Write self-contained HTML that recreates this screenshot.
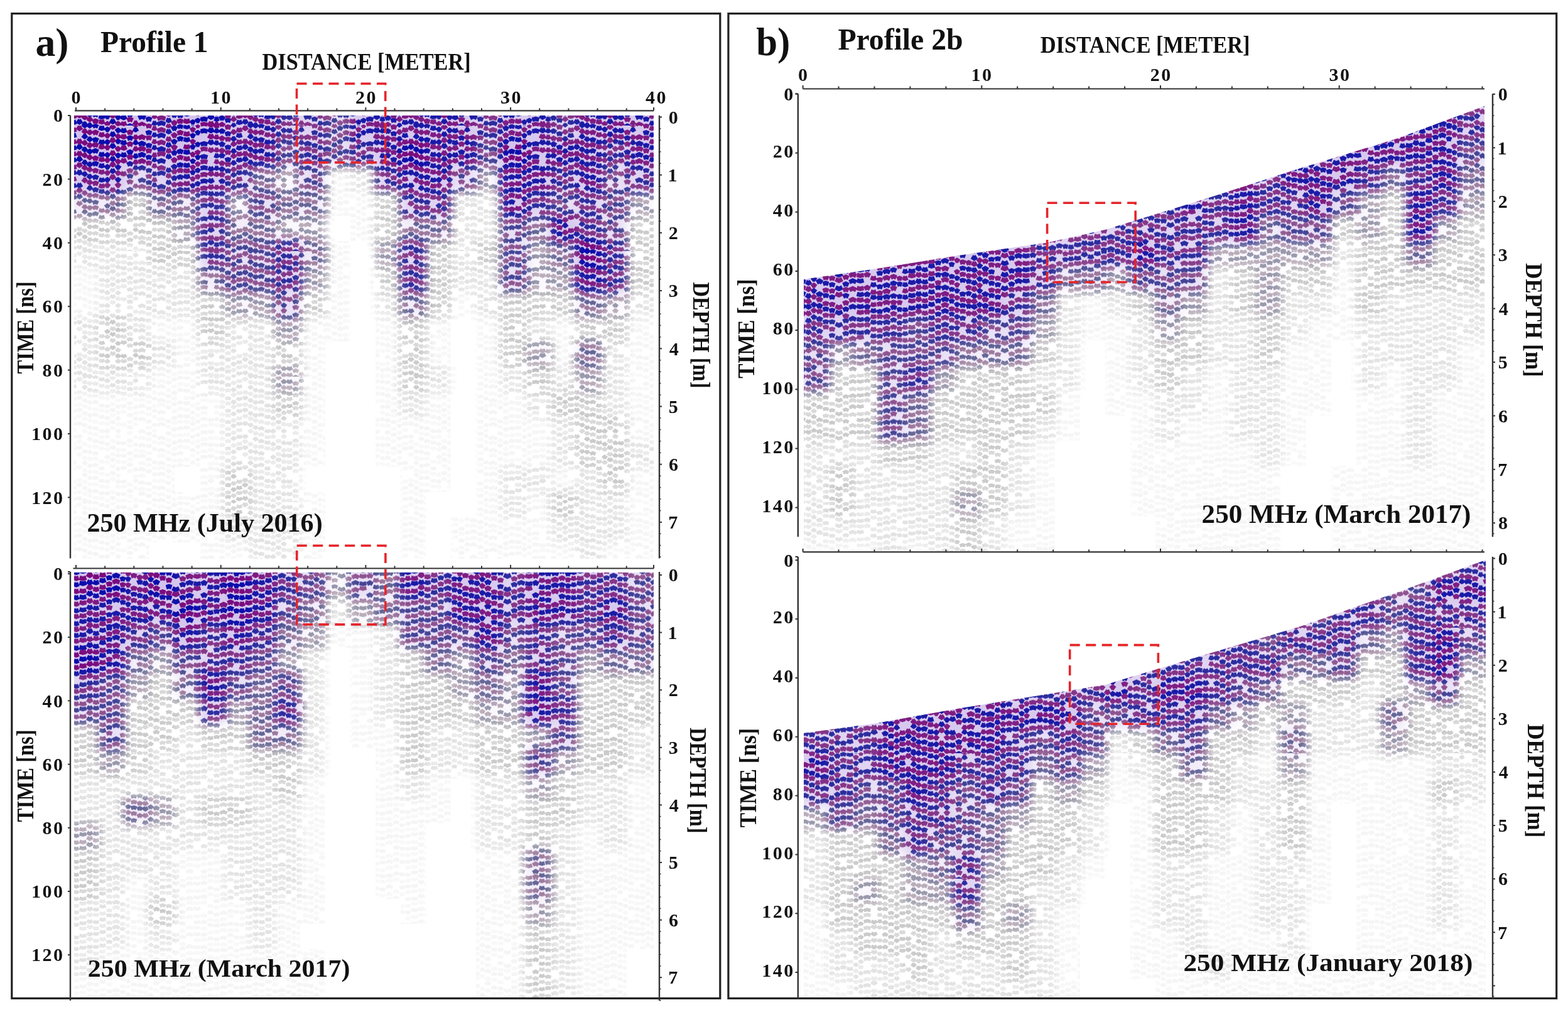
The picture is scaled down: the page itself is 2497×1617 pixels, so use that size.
<!DOCTYPE html>
<html><head><meta charset="utf-8"><style>
html,body{margin:0;padding:0;background:#fff;}
svg{display:block;}
text{font-family:"Liberation Serif","Times New Roman",serif;font-weight:bold;fill:#111;}
</style></head><body>
<svg xmlns="http://www.w3.org/2000/svg" width="2497" height="1617" viewBox="0 0 2497 1617">
<rect width="2497" height="1617" fill="#fff"/>
<defs><filter id="mblur" x="-5%" y="-5%" width="110%" height="110%"><feGaussianBlur stdDeviation="7"/></filter><path id="waA" d="M0.6 8.2L4.5 10.2L8.4 8.2M0.6 29.5L4.5 31.5L8.4 29.5M0.6 48.0L4.5 50.0L8.4 48.0M0.6 69.8L4.5 71.8L8.4 69.8M0.6 89.2L4.5 91.2L8.4 89.2M0.6 108.5L4.5 110.5L8.4 108.5M0.6 130.0L4.5 132.0L8.4 130.0M0.6 149.1L4.5 151.1L8.4 149.1M0.6 167.9L4.5 169.9L8.4 167.9M0.6 190.4L4.5 192.4L8.4 190.4M9.6 6.1L13.5 3.6L17.4 6.1M9.6 27.5L13.5 25.0L17.4 27.5M9.6 45.4L13.5 42.9L17.4 45.4M9.6 67.5L13.5 65.0L17.4 67.5M9.6 85.6L13.5 83.1L17.4 85.6M9.6 106.8L13.5 104.3L17.4 106.8M9.6 125.4L13.5 122.9L17.4 125.4M9.6 144.8L13.5 142.3L17.4 144.8M9.6 165.2L13.5 162.7L17.4 165.2M9.6 185.1L13.5 182.6L17.4 185.1M18.6 2.5L23.0 0.5L27.4 2.5M18.6 22.4L23.0 20.4L27.4 22.4M18.6 42.6L23.0 40.6L27.4 42.6M18.6 64.1L23.0 62.1L27.4 64.1M18.6 83.4L23.0 81.4L27.4 83.4M18.6 103.7L23.0 101.7L27.4 103.7M18.6 123.3L23.0 121.3L27.4 123.3M18.6 142.3L23.0 140.3L27.4 142.3M18.6 163.9L23.0 161.9L27.4 163.9M18.6 185.2L23.0 183.2L27.4 185.2M18.6 203.4L23.0 201.4L27.4 203.4M28.6 0.8L33.5 2.3L38.4 0.8M28.6 21.6L33.5 23.1L38.4 21.6M28.6 41.5L33.5 43.0L38.4 41.5M28.6 62.5L33.5 64.0L38.4 62.5M28.6 80.3L33.5 81.8L38.4 80.3M28.6 101.6L33.5 103.1L38.4 101.6M28.6 142.6L33.5 144.1L38.4 142.6M28.6 160.7L33.5 162.2L38.4 160.7M28.6 180.4L33.5 181.9L38.4 180.4M28.6 202.3L33.5 203.8L38.4 202.3M39.6 -1.9L43.0 -3.9L46.4 -1.9M39.6 17.7L43.0 15.7L46.4 17.7M39.6 35.7L43.0 33.7L46.4 35.7M39.6 58.5L43.0 56.5L46.4 58.5M39.6 76.3L43.0 74.3L46.4 76.3M39.6 97.4L43.0 95.4L46.4 97.4M39.6 118.4L43.0 116.4L46.4 118.4M39.6 138.4L43.0 136.4L46.4 138.4M39.6 157.3L43.0 155.3L46.4 157.3M39.6 176.2L43.0 174.2L46.4 176.2M39.6 196.2L43.0 194.2L46.4 196.2M47.6 12.9L51.0 10.9L54.4 12.9M47.6 31.7L51.0 29.7L54.4 31.7M47.6 52.1L51.0 50.1L54.4 52.1M47.6 73.0L51.0 71.0L54.4 73.0M47.6 94.3L51.0 92.3L54.4 94.3M47.6 112.8L51.0 110.8L54.4 112.8M47.6 133.5L51.0 131.5L54.4 133.5M47.6 151.9L51.0 149.9L54.4 151.9M47.6 172.6L51.0 170.6L54.4 172.6M47.6 193.7L51.0 191.7L54.4 193.7M55.6 9.5L61.0 8.0L66.4 9.5M55.6 30.1L61.0 28.6L66.4 30.1M55.6 50.6L61.0 49.1L66.4 50.6M55.6 68.3L61.0 66.8L66.4 68.3M55.6 89.5L61.0 88.0L66.4 89.5M55.6 108.7L61.0 107.2L66.4 108.7M55.6 128.5L61.0 127.0L66.4 128.5M55.6 149.5L61.0 148.0L66.4 149.5M55.6 170.6L61.0 169.1L66.4 170.6M55.6 190.8L61.0 189.3L66.4 190.8M67.6 6.0L72.0 8.5L76.4 6.0M67.6 25.2L72.0 27.7L76.4 25.2M67.6 67.4L72.0 69.9L76.4 67.4M67.6 86.4L72.0 88.9L76.4 86.4M67.6 107.1L72.0 109.6L76.4 107.1M67.6 125.1L72.0 127.6L76.4 125.1M67.6 144.9L72.0 147.4L76.4 144.9M67.6 164.5L72.0 167.0L76.4 164.5M67.6 184.6L72.0 187.1L76.4 184.6M77.6 7.2L81.0 8.7L84.4 7.2M77.6 26.5L81.0 28.0L84.4 26.5M77.6 47.1L81.0 48.6L84.4 47.1M77.6 66.8L81.0 68.3L84.4 66.8M77.6 108.1L81.0 109.6L84.4 108.1M77.6 129.1L81.0 130.6L84.4 129.1M77.6 146.9L81.0 148.4L84.4 146.9M77.6 188.7L81.0 190.2L84.4 188.7M85.6 10.8L89.5 8.3L93.4 10.8M85.6 31.6L89.5 29.1L93.4 31.6M85.6 49.7L89.5 47.2L93.4 49.7M85.6 71.3L89.5 68.8L93.4 71.3M85.6 90.5L89.5 88.0L93.4 90.5M85.6 110.4L89.5 107.9L93.4 110.4M85.6 130.9L89.5 128.4L93.4 130.9M85.6 151.6L89.5 149.1L93.4 151.6M85.6 170.5L89.5 168.0L93.4 170.5M85.6 189.8L89.5 187.3L93.4 189.8M94.6 -4.4L99.0 -5.9L103.4 -4.4M94.6 14.1L99.0 12.6L103.4 14.1M94.6 35.6L99.0 34.1L103.4 35.6M94.6 55.4L99.0 53.9L103.4 55.4M94.6 73.4L99.0 71.9L103.4 73.4M94.6 93.5L99.0 92.0L103.4 93.5M94.6 115.3L99.0 113.8L103.4 115.3M94.6 134.7L99.0 133.2L103.4 134.7M94.6 153.8L99.0 152.3L103.4 153.8M94.6 173.6L99.0 172.1L103.4 173.6M94.6 192.7L99.0 191.2L103.4 192.7M104.6 -3.4L108.0 -0.9L111.4 -3.4M104.6 19.3L108.0 21.8L111.4 19.3M104.6 38.8L108.0 41.3L111.4 38.8M104.6 57.6L108.0 60.1L111.4 57.6M104.6 76.6L108.0 79.1L111.4 76.6M104.6 96.8L108.0 99.3L111.4 96.8M104.6 118.1L108.0 120.6L111.4 118.1M104.6 137.2L108.0 139.7L111.4 137.2M104.6 157.1L108.0 159.6L111.4 157.1M104.6 178.3L108.0 180.8L111.4 178.3M104.6 198.1L108.0 200.6L111.4 198.1M112.6 -5.7L117.0 -4.2L121.4 -5.7M112.6 14.8L117.0 16.3L121.4 14.8M112.6 34.6L117.0 36.1L121.4 34.6M112.6 53.9L117.0 55.4L121.4 53.9M112.6 74.2L117.0 75.7L121.4 74.2M112.6 94.9L117.0 96.4L121.4 94.9M112.6 113.6L117.0 115.1L121.4 113.6M112.6 136.3L117.0 137.8L121.4 136.3M112.6 176.1L117.0 177.6L121.4 176.1M112.6 194.0L117.0 195.5L121.4 194.0M122.6 32.3L126.5 34.8L130.4 32.3M122.6 51.6L126.5 54.1L130.4 51.6M122.6 73.1L126.5 75.6L130.4 73.1M122.6 93.7L126.5 96.2L130.4 93.7M122.6 111.4L126.5 113.9L130.4 111.4M122.6 171.0L126.5 173.5L130.4 171.0M122.6 192.2L126.5 194.7L130.4 192.2M131.6 -2.3L135.0 0.2L138.4 -2.3M131.6 15.4L135.0 17.9L138.4 15.4M131.6 36.2L135.0 38.7L138.4 36.2M131.6 56.8L135.0 59.3L138.4 56.8M131.6 75.4L135.0 77.9L138.4 75.4M131.6 117.4L135.0 119.9L138.4 117.4M131.6 135.7L135.0 138.2L138.4 135.7M131.6 154.9L135.0 157.4L138.4 154.9M131.6 175.8L135.0 178.3L138.4 175.8M131.6 195.8L135.0 198.3L138.4 195.8M139.6 -1.9L143.0 0.6L146.4 -1.9M139.6 19.8L143.0 22.3L146.4 19.8M139.6 39.4L143.0 41.9L146.4 39.4M139.6 60.0L143.0 62.5L146.4 60.0M139.6 79.4L143.0 81.9L146.4 79.4M139.6 97.7L143.0 100.2L146.4 97.7M139.6 118.4L143.0 120.9L146.4 118.4M139.6 140.4L143.0 142.9L146.4 140.4M139.6 159.7L143.0 162.2L146.4 159.7M139.6 180.3L143.0 182.8L146.4 180.3M139.6 197.6L143.0 200.1L146.4 197.6M147.6 1.5L152.0 -0.5L156.4 1.5M147.6 24.1L152.0 22.1L156.4 24.1M147.6 41.7L152.0 39.7L156.4 41.7M147.6 62.1L152.0 60.1L156.4 62.1M147.6 83.7L152.0 81.7L156.4 83.7M147.6 103.9L152.0 101.9L156.4 103.9M147.6 123.6L152.0 121.6L156.4 123.6M147.6 141.9L152.0 139.9L156.4 141.9M147.6 162.6L152.0 160.6L156.4 162.6M147.6 183.8L152.0 181.8L156.4 183.8M147.6 202.8L152.0 200.8L156.4 202.8M157.6 3.3L162.0 4.8L166.4 3.3M157.6 25.4L162.0 26.9L166.4 25.4M157.6 45.2L162.0 46.7L166.4 45.2M157.6 63.2L162.0 64.7L166.4 63.2M157.6 85.8L162.0 87.3L166.4 85.8M157.6 104.1L162.0 105.6L166.4 104.1M157.6 145.4L162.0 146.9L166.4 145.4M157.6 165.0L162.0 166.5L166.4 165.0M157.6 185.0L162.0 186.5L166.4 185.0M157.6 205.7L162.0 207.2L166.4 205.7M167.6 8.2L171.0 5.7L174.4 8.2M167.6 28.3L171.0 25.8L174.4 28.3M167.6 48.9L171.0 46.4L174.4 48.9M167.6 68.0L171.0 65.5L174.4 68.0M167.6 88.5L171.0 86.0L174.4 88.5M167.6 109.3L171.0 106.8L174.4 109.3M167.6 129.8L171.0 127.3L174.4 129.8M167.6 168.8L171.0 166.3L174.4 168.8M167.6 187.6L171.0 185.1L174.4 187.6M175.6 12.1L179.5 14.6L183.4 12.1M175.6 30.8L179.5 33.3L183.4 30.8M175.6 51.5L179.5 54.0L183.4 51.5M175.6 70.7L179.5 73.2L183.4 70.7M175.6 111.4L179.5 113.9L183.4 111.4M175.6 130.8L179.5 133.3L183.4 130.8M175.6 152.0L179.5 154.5L183.4 152.0M175.6 191.7L179.5 194.2L183.4 191.7M184.6 9.7L188.0 7.2L191.4 9.7M184.6 27.1L188.0 24.6L191.4 27.1M184.6 49.6L188.0 47.1L191.4 49.6M184.6 68.4L188.0 65.9L191.4 68.4M184.6 88.4L188.0 85.9L191.4 88.4M184.6 107.4L188.0 104.9L191.4 107.4M184.6 127.4L188.0 124.9L191.4 127.4M184.6 148.8L188.0 146.3L191.4 148.8M184.6 168.7L188.0 166.2L191.4 168.7M184.6 188.8L188.0 186.3L191.4 188.8M192.6 6.7L197.0 8.7L201.4 6.7M192.6 26.0L197.0 28.0L201.4 26.0M192.6 45.6L197.0 47.6L201.4 45.6M192.6 104.7L197.0 106.7L201.4 104.7M192.6 124.7L197.0 126.7L201.4 124.7M192.6 144.2L197.0 146.2L201.4 144.2M192.6 165.9L197.0 167.9L201.4 165.9M192.6 185.8L197.0 187.8L201.4 185.8M192.6 203.9L197.0 205.9L201.4 203.9M202.6 21.2L207.0 19.2L211.4 21.2M202.6 43.8L207.0 41.8L211.4 43.8M202.6 62.5L207.0 60.5L211.4 62.5M202.6 81.9L207.0 79.9L211.4 81.9M202.6 103.3L207.0 101.3L211.4 103.3M202.6 123.2L207.0 121.2L211.4 123.2M202.6 141.7L207.0 139.7L211.4 141.7M202.6 183.5L207.0 181.5L211.4 183.5M202.6 202.3L207.0 200.3L211.4 202.3M212.6 5.0L216.0 7.0L219.4 5.0M212.6 25.6L216.0 27.6L219.4 25.6M212.6 47.2L216.0 49.2L219.4 47.2M212.6 65.8L216.0 67.8L219.4 65.8M212.6 106.8L216.0 108.8L219.4 106.8M212.6 124.9L216.0 126.9L219.4 124.9M212.6 146.3L216.0 148.3L219.4 146.3M212.6 164.5L216.0 166.5L219.4 164.5M220.6 30.4L226.0 27.9L231.4 30.4M220.6 48.2L226.0 45.7L231.4 48.2M220.6 69.2L226.0 66.7L231.4 69.2M220.6 88.8L226.0 86.3L231.4 88.8M220.6 110.8L226.0 108.3L231.4 110.8M220.6 128.0L226.0 125.5L231.4 128.0M220.6 148.9L226.0 146.4L231.4 148.9M220.6 170.5L226.0 168.0L231.4 170.5M220.6 187.9L226.0 185.4L231.4 187.9M232.6 12.4L237.0 10.9L241.4 12.4M232.6 32.8L237.0 31.3L241.4 32.8M232.6 51.6L237.0 50.1L241.4 51.6M232.6 72.7L237.0 71.2L241.4 72.7M232.6 91.9L237.0 90.4L241.4 91.9M232.6 111.6L237.0 110.1L241.4 111.6M232.6 132.8L237.0 131.3L241.4 132.8M232.6 151.8L237.0 150.3L241.4 151.8M232.6 171.5L237.0 170.0L241.4 171.5M232.6 190.9L237.0 189.4L241.4 190.9M242.6 -4.9L246.0 -3.4L249.4 -4.9M242.6 13.7L246.0 15.2L249.4 13.7M242.6 34.0L246.0 35.5L249.4 34.0M242.6 53.3L246.0 54.8L249.4 53.3M242.6 75.9L246.0 77.4L249.4 75.9M242.6 93.6L246.0 95.1L249.4 93.6M242.6 114.2L246.0 115.7L249.4 114.2M242.6 135.4L246.0 136.9L249.4 135.4M242.6 154.4L246.0 155.9L249.4 154.4M242.6 175.2L246.0 176.7L249.4 175.2M242.6 195.2L246.0 196.7L249.4 195.2M250.6 -2.2L257.0 -4.7L263.4 -2.2M250.6 17.3L257.0 14.8L263.4 17.3M250.6 39.1L257.0 36.6L263.4 39.1M250.6 58.1L257.0 55.6L263.4 58.1M250.6 77.5L257.0 75.0L263.4 77.5M250.6 99.2L257.0 96.7L263.4 99.2M250.6 118.7L257.0 116.2L263.4 118.7M250.6 139.1L257.0 136.6L263.4 139.1M250.6 156.6L257.0 154.1L263.4 156.6M250.6 178.8L257.0 176.3L263.4 178.8M250.6 198.1L257.0 195.6L263.4 198.1"/><path id="wbA" d="M0.6 -1.3L4.5 0.7L8.4 -1.3M0.6 20.3L4.5 22.3L8.4 20.3M0.6 38.9L4.5 40.9L8.4 38.9M0.6 78.7L4.5 80.7L8.4 78.7M0.6 100.2L4.5 102.2L8.4 100.2M0.6 119.4L4.5 121.4L8.4 119.4M0.6 140.7L4.5 142.7L8.4 140.7M0.6 158.3L4.5 160.3L8.4 158.3M0.6 180.1L4.5 182.1L8.4 180.1M0.6 199.9L4.5 201.9L8.4 199.9M9.6 -3.5L13.5 -6.0L17.4 -3.5M9.6 17.4L13.5 14.9L17.4 17.4M9.6 36.6L13.5 34.1L17.4 36.6M9.6 56.9L13.5 54.4L17.4 56.9M9.6 75.2L13.5 72.7L17.4 75.2M9.6 96.0L13.5 93.5L17.4 96.0M9.6 116.8L13.5 114.3L17.4 116.8M9.6 135.2L13.5 132.7L17.4 135.2M9.6 155.3L13.5 152.8L17.4 155.3M9.6 176.6L13.5 174.1L17.4 176.6M9.6 197.6L13.5 195.1L17.4 197.6M18.6 -5.8L23.0 -7.8L27.4 -5.8M18.6 12.8L23.0 10.8L27.4 12.8M18.6 52.3L23.0 50.3L27.4 52.3M18.6 73.0L23.0 71.0L27.4 73.0M18.6 94.8L23.0 92.8L27.4 94.8M18.6 112.5L23.0 110.5L27.4 112.5M18.6 134.8L23.0 132.8L27.4 134.8M18.6 153.9L23.0 151.9L27.4 153.9M18.6 194.4L23.0 192.4L27.4 194.4M28.6 12.5L33.5 14.0L38.4 12.5M28.6 33.1L33.5 34.6L38.4 33.1M28.6 51.9L33.5 53.4L38.4 51.9M28.6 71.2L33.5 72.7L38.4 71.2M28.6 91.5L33.5 93.0L38.4 91.5M28.6 111.9L33.5 113.4L38.4 111.9M28.6 131.1L33.5 132.6L38.4 131.1M28.6 151.3L33.5 152.8L38.4 151.3M28.6 171.4L33.5 172.9L38.4 171.4M28.6 192.3L33.5 193.8L38.4 192.3M39.6 8.2L43.0 6.2L46.4 8.2M39.6 27.3L43.0 25.3L46.4 27.3M39.6 47.6L43.0 45.6L46.4 47.6M39.6 68.3L43.0 66.3L46.4 68.3M39.6 86.6L43.0 84.6L46.4 86.6M39.6 106.9L43.0 104.9L46.4 106.9M39.6 127.1L43.0 125.1L46.4 127.1M39.6 148.4L43.0 146.4L46.4 148.4M39.6 165.7L43.0 163.7L46.4 165.7M47.6 1.6L51.0 -0.4L54.4 1.6M47.6 44.4L51.0 42.4L54.4 44.4M47.6 63.0L51.0 61.0L54.4 63.0M47.6 83.1L51.0 81.1L54.4 83.1M47.6 104.2L51.0 102.2L54.4 104.2M47.6 122.7L51.0 120.7L54.4 122.7M47.6 142.1L51.0 140.1L54.4 142.1M47.6 164.3L51.0 162.3L54.4 164.3M47.6 181.9L51.0 179.9L54.4 181.9M47.6 204.2L51.0 202.2L54.4 204.2M55.6 -1.7L61.0 -3.2L66.4 -1.7M55.6 38.4L61.0 36.9L66.4 38.4M55.6 58.5L61.0 57.0L66.4 58.5M55.6 79.0L61.0 77.5L66.4 79.0M55.6 100.7L61.0 99.2L66.4 100.7M55.6 119.9L61.0 118.4L66.4 119.9M55.6 161.0L61.0 159.5L66.4 161.0M55.6 180.8L61.0 179.3L66.4 180.8M55.6 199.2L61.0 197.7L66.4 199.2M67.6 -2.8L72.0 -0.3L76.4 -2.8M67.6 15.8L72.0 18.3L76.4 15.8M67.6 37.4L72.0 39.9L76.4 37.4M67.6 75.2L72.0 77.7L76.4 75.2M67.6 96.4L72.0 98.9L76.4 96.4M67.6 115.4L72.0 117.9L76.4 115.4M67.6 137.1L72.0 139.6L76.4 137.1M67.6 157.4L72.0 159.9L76.4 157.4M67.6 177.1L72.0 179.6L76.4 177.1M67.6 195.6L72.0 198.1L76.4 195.6M77.6 -0.6L81.0 0.9L84.4 -0.6M77.6 17.4L81.0 18.9L84.4 17.4M77.6 37.9L81.0 39.4L84.4 37.9M77.6 56.5L81.0 58.0L84.4 56.5M77.6 76.6L81.0 78.1L84.4 76.6M77.6 97.2L81.0 98.7L84.4 97.2M77.6 118.5L81.0 120.0L84.4 118.5M77.6 137.5L81.0 139.0L84.4 137.5M77.6 158.4L81.0 159.9L84.4 158.4M77.6 179.2L81.0 180.7L84.4 179.2M77.6 196.9L81.0 198.4L84.4 196.9M85.6 -0.2L89.5 -2.7L93.4 -0.2M85.6 22.2L89.5 19.7L93.4 22.2M85.6 41.8L89.5 39.3L93.4 41.8M85.6 62.0L89.5 59.5L93.4 62.0M85.6 79.9L89.5 77.4L93.4 79.9M85.6 100.5L89.5 98.0L93.4 100.5M85.6 122.7L89.5 120.2L93.4 122.7M85.6 141.8L89.5 139.3L93.4 141.8M85.6 160.0L89.5 157.5L93.4 160.0M85.6 180.7L89.5 178.2L93.4 180.7M85.6 200.5L89.5 198.0L93.4 200.5M94.6 3.6L99.0 2.1L103.4 3.6M94.6 22.9L99.0 21.4L103.4 22.9M94.6 43.8L99.0 42.3L103.4 43.8M94.6 62.9L99.0 61.4L103.4 62.9M94.6 84.4L99.0 82.9L103.4 84.4M94.6 103.7L99.0 102.2L103.4 103.7M94.6 123.1L99.0 121.6L103.4 123.1M94.6 144.8L99.0 143.3L103.4 144.8M94.6 163.6L99.0 162.1L103.4 163.6M94.6 185.5L99.0 184.0L103.4 185.5M94.6 203.4L99.0 201.9L103.4 203.4M104.6 8.3L108.0 10.8L111.4 8.3M104.6 27.3L108.0 29.8L111.4 27.3M104.6 46.5L108.0 49.0L111.4 46.5M104.6 68.1L108.0 70.6L111.4 68.1M104.6 87.6L108.0 90.1L111.4 87.6M104.6 107.9L108.0 110.4L111.4 107.9M104.6 127.6L108.0 130.1L111.4 127.6M104.6 148.4L108.0 150.9L111.4 148.4M104.6 168.4L108.0 170.9L111.4 168.4M104.6 187.9L108.0 190.4L111.4 187.9M112.6 6.2L117.0 7.7L121.4 6.2M112.6 25.1L117.0 26.6L121.4 25.1M112.6 44.4L117.0 45.9L121.4 44.4M112.6 65.5L117.0 67.0L121.4 65.5M112.6 84.3L117.0 85.8L121.4 84.3M112.6 106.1L117.0 107.6L121.4 106.1M112.6 145.3L117.0 146.8L121.4 145.3M112.6 166.3L117.0 167.8L121.4 166.3M112.6 184.3L117.0 185.8L121.4 184.3M112.6 205.6L117.0 207.1L121.4 205.6M122.6 2.4L126.5 4.9L130.4 2.4M122.6 23.6L126.5 26.1L130.4 23.6M122.6 43.0L126.5 45.5L130.4 43.0M122.6 61.3L126.5 63.8L130.4 61.3M122.6 101.7L126.5 104.2L130.4 101.7M122.6 122.4L126.5 124.9L130.4 122.4M122.6 142.7L126.5 145.2L130.4 142.7M122.6 163.4L126.5 165.9L130.4 163.4M122.6 182.0L126.5 184.5L130.4 182.0M122.6 202.9L126.5 205.4L130.4 202.9M131.6 7.2L135.0 9.7L138.4 7.2M131.6 25.6L135.0 28.1L138.4 25.6M131.6 45.4L135.0 47.9L138.4 45.4M131.6 65.2L135.0 67.7L138.4 65.2M131.6 85.2L135.0 87.7L138.4 85.2M131.6 105.9L135.0 108.4L138.4 105.9M131.6 127.8L135.0 130.3L138.4 127.8M131.6 147.6L135.0 150.1L138.4 147.6M131.6 165.9L135.0 168.4L138.4 165.9M131.6 184.8L135.0 187.3L138.4 184.8M131.6 205.1L135.0 207.6L138.4 205.1M139.6 8.9L143.0 11.4L146.4 8.9M139.6 29.5L143.0 32.0L146.4 29.5M139.6 48.7L143.0 51.2L146.4 48.7M139.6 68.1L143.0 70.6L146.4 68.1M139.6 88.6L143.0 91.1L146.4 88.6M139.6 109.6L143.0 112.1L146.4 109.6M139.6 129.3L143.0 131.8L146.4 129.3M139.6 150.0L143.0 152.5L146.4 150.0M139.6 169.9L143.0 172.4L146.4 169.9M139.6 188.0L143.0 190.5L146.4 188.0M147.6 12.4L152.0 10.4L156.4 12.4M147.6 32.2L152.0 30.2L156.4 32.2M147.6 53.5L152.0 51.5L156.4 53.5M147.6 73.3L152.0 71.3L156.4 73.3M147.6 93.4L152.0 91.4L156.4 93.4M147.6 113.1L152.0 111.1L156.4 113.1M147.6 132.1L152.0 130.1L156.4 132.1M147.6 153.1L152.0 151.1L156.4 153.1M147.6 172.9L152.0 170.9L156.4 172.9M147.6 194.4L152.0 192.4L156.4 194.4M157.6 -4.5L162.0 -3.0L166.4 -4.5M157.6 13.6L162.0 15.1L166.4 13.6M157.6 33.0L162.0 34.5L166.4 33.0M157.6 53.1L162.0 54.6L166.4 53.1M157.6 73.1L162.0 74.6L166.4 73.1M157.6 95.5L162.0 97.0L166.4 95.5M157.6 113.3L162.0 114.8L166.4 113.3M157.6 134.5L162.0 136.0L166.4 134.5M157.6 153.5L162.0 155.0L166.4 153.5M157.6 173.8L162.0 175.3L166.4 173.8M157.6 193.2L162.0 194.7L166.4 193.2M167.6 -3.0L171.0 -5.5L174.4 -3.0M167.6 18.2L171.0 15.7L174.4 18.2M167.6 37.0L171.0 34.5L174.4 37.0M167.6 57.2L171.0 54.7L174.4 57.2M167.6 77.4L171.0 74.9L174.4 77.4M167.6 97.3L171.0 94.8L174.4 97.3M167.6 117.5L171.0 115.0L174.4 117.5M167.6 138.4L171.0 135.9L174.4 138.4M167.6 158.1L171.0 155.6L174.4 158.1M167.6 177.4L171.0 174.9L174.4 177.4M167.6 199.5L171.0 197.0L174.4 199.5M175.6 0.2L179.5 2.7L183.4 0.2M175.6 21.6L179.5 24.1L183.4 21.6M175.6 42.1L179.5 44.6L183.4 42.1M175.6 60.3L179.5 62.8L183.4 60.3M175.6 80.1L179.5 82.6L183.4 80.1M175.6 101.0L179.5 103.5L183.4 101.0M175.6 122.1L179.5 124.6L183.4 122.1M175.6 140.7L179.5 143.2L183.4 140.7M175.6 161.6L179.5 164.1L183.4 161.6M175.6 182.4L179.5 184.9L183.4 182.4M175.6 201.8L179.5 204.3L183.4 201.8M184.6 -1.6L188.0 -4.1L191.4 -1.6M184.6 19.3L188.0 16.8L191.4 19.3M184.6 39.2L188.0 36.7L191.4 39.2M184.6 59.4L188.0 56.9L191.4 59.4M184.6 77.6L188.0 75.1L191.4 77.6M184.6 97.0L188.0 94.5L191.4 97.0M184.6 119.0L188.0 116.5L191.4 119.0M184.6 137.3L188.0 134.8L191.4 137.3M184.6 159.5L188.0 157.0L191.4 159.5M184.6 177.2L188.0 174.7L191.4 177.2M184.6 199.3L188.0 196.8L191.4 199.3M192.6 -4.7L197.0 -2.7L201.4 -4.7M192.6 16.5L197.0 18.5L201.4 16.5M192.6 34.4L197.0 36.4L201.4 34.4M192.6 54.8L197.0 56.8L201.4 54.8M192.6 75.6L197.0 77.6L201.4 75.6M192.6 115.4L197.0 117.4L201.4 115.4M192.6 134.9L197.0 136.9L201.4 134.9M192.6 173.9L197.0 175.9L201.4 173.9M192.6 196.2L197.0 198.2L201.4 196.2M202.6 12.2L207.0 10.2L211.4 12.2M202.6 31.0L207.0 29.0L211.4 31.0M202.6 51.6L207.0 49.6L211.4 51.6M202.6 73.4L207.0 71.4L211.4 73.4M202.6 91.1L207.0 89.1L211.4 91.1M202.6 111.0L207.0 109.0L211.4 111.0M202.6 133.2L207.0 131.2L211.4 133.2M202.6 151.7L207.0 149.7L211.4 151.7M202.6 173.2L207.0 171.2L211.4 173.2M202.6 191.8L207.0 189.8L211.4 191.8M212.6 -2.9L216.0 -0.9L219.4 -2.9M212.6 17.2L216.0 19.2L219.4 17.2M212.6 35.6L216.0 37.6L219.4 35.6M212.6 56.9L216.0 58.9L219.4 56.9M212.6 74.4L216.0 76.4L219.4 74.4M212.6 95.1L216.0 97.1L219.4 95.1M212.6 116.2L216.0 118.2L219.4 116.2M212.6 157.3L216.0 159.3L219.4 157.3M212.6 176.3L216.0 178.3L219.4 176.3M212.6 194.6L216.0 196.6L219.4 194.6M220.6 -1.8L226.0 -4.3L231.4 -1.8M220.6 20.3L226.0 17.8L231.4 20.3M220.6 38.8L226.0 36.3L231.4 38.8M220.6 58.5L226.0 56.0L231.4 58.5M220.6 99.0L226.0 96.5L231.4 99.0M220.6 120.5L226.0 118.0L231.4 120.5M220.6 139.2L226.0 136.7L231.4 139.2M220.6 159.5L226.0 157.0L231.4 159.5M220.6 180.4L226.0 177.9L231.4 180.4M220.6 200.2L226.0 197.7L231.4 200.2M232.6 1.7L237.0 0.2L241.4 1.7M232.6 20.7L237.0 19.2L241.4 20.7M232.6 41.4L237.0 39.9L241.4 41.4M232.6 60.9L237.0 59.4L241.4 60.9M232.6 82.2L237.0 80.7L241.4 82.2M232.6 100.9L237.0 99.4L241.4 100.9M232.6 122.9L237.0 121.4L241.4 122.9M232.6 141.7L237.0 140.2L241.4 141.7M232.6 181.3L237.0 179.8L241.4 181.3M232.6 202.0L237.0 200.5L241.4 202.0M242.6 3.4L246.0 4.9L249.4 3.4M242.6 24.6L246.0 26.1L249.4 24.6M242.6 45.9L246.0 47.4L249.4 45.9M242.6 63.3L246.0 64.8L249.4 63.3M242.6 85.2L246.0 86.7L249.4 85.2M242.6 103.3L246.0 104.8L249.4 103.3M242.6 144.5L246.0 146.0L249.4 144.5M242.6 164.8L246.0 166.3L249.4 164.8M242.6 184.3L246.0 185.8L249.4 184.3M242.6 203.7L246.0 205.2L249.4 203.7M250.6 8.6L257.0 6.1L263.4 8.6M250.6 28.7L257.0 26.2L263.4 28.7M250.6 46.6L257.0 44.1L263.4 46.6M250.6 69.1L257.0 66.6L263.4 69.1M250.6 107.3L257.0 104.8L263.4 107.3M250.6 127.1L257.0 124.6L263.4 127.1M250.6 147.1L257.0 144.6L263.4 147.1M250.6 167.6L257.0 165.1L263.4 167.6M250.6 189.5L257.0 187.0L263.4 189.5"/><pattern id="pcA" patternUnits="userSpaceOnUse" width="264" height="200"><rect width="264" height="200" fill="#d2c2ec"/><use href="#waA" fill="none" stroke="#0c0cac" stroke-width="7.2"/><use href="#wbA" fill="none" stroke="#7a0a7e" stroke-width="7.2"/></pattern><pattern id="pgA" patternUnits="userSpaceOnUse" width="264" height="200"><use href="#waA" fill="none" stroke="#444" stroke-width="5.5"/><use href="#wbA" fill="none" stroke="#777" stroke-width="5.5"/></pattern><path id="waB" d="M0.6 -5.2L5.0 -6.7L9.4 -5.2M0.6 13.2L5.0 11.7L9.4 13.2M0.6 54.6L5.0 53.1L9.4 54.6M0.6 74.4L5.0 72.9L9.4 74.4M0.6 95.5L5.0 94.0L9.4 95.5M0.6 113.9L5.0 112.4L9.4 113.9M0.6 135.5L5.0 134.0L9.4 135.5M0.6 153.0L5.0 151.5L9.4 153.0M0.6 175.9L5.0 174.4L9.4 175.9M0.6 195.3L5.0 193.8L9.4 195.3M10.6 -3.7L16.0 -1.2L21.4 -3.7M10.6 17.8L16.0 20.3L21.4 17.8M10.6 36.0L16.0 38.5L21.4 36.0M10.6 57.7L16.0 60.2L21.4 57.7M10.6 96.5L16.0 99.0L21.4 96.5M10.6 116.1L16.0 118.6L21.4 116.1M10.6 137.3L16.0 139.8L21.4 137.3M10.6 156.7L16.0 159.2L21.4 156.7M10.6 176.7L16.0 179.2L21.4 176.7M10.6 195.2L16.0 197.7L21.4 195.2M22.6 -5.0L27.0 -7.0L31.4 -5.0M22.6 12.5L27.0 10.5L31.4 12.5M22.6 32.9L27.0 30.9L31.4 32.9M22.6 54.0L27.0 52.0L31.4 54.0M22.6 72.4L27.0 70.4L31.4 72.4M22.6 94.0L27.0 92.0L31.4 94.0M22.6 112.2L27.0 110.2L31.4 112.2M22.6 132.7L27.0 130.7L31.4 132.7M22.6 153.3L27.0 151.3L31.4 153.3M22.6 174.3L27.0 172.3L31.4 174.3M32.6 9.3L38.0 6.8L43.4 9.3M32.6 32.0L38.0 29.5L43.4 32.0M32.6 49.4L38.0 46.9L43.4 49.4M32.6 90.3L38.0 87.8L43.4 90.3M32.6 109.4L38.0 106.9L43.4 109.4M32.6 130.1L38.0 127.6L43.4 130.1M32.6 150.5L38.0 148.0L43.4 150.5M32.6 170.1L38.0 167.6L43.4 170.1M32.6 189.5L38.0 187.0L43.4 189.5M44.6 6.8L50.0 8.3L55.4 6.8M44.6 28.8L50.0 30.3L55.4 28.8M44.6 46.6L50.0 48.1L55.4 46.6M44.6 68.3L50.0 69.8L55.4 68.3M44.6 87.5L50.0 89.0L55.4 87.5M44.6 108.1L50.0 109.6L55.4 108.1M44.6 129.1L50.0 130.6L55.4 129.1M44.6 167.9L50.0 169.4L55.4 167.9M56.6 8.1L61.0 5.6L65.4 8.1M56.6 30.0L61.0 27.5L65.4 30.0M56.6 70.7L61.0 68.2L65.4 70.7M56.6 90.4L61.0 87.9L65.4 90.4M56.6 110.5L61.0 108.0L65.4 110.5M56.6 130.5L61.0 128.0L65.4 130.5M56.6 149.8L61.0 147.3L65.4 149.8M56.6 168.8L61.0 166.3L65.4 168.8M56.6 190.2L61.0 187.7L65.4 190.2M66.6 -5.3L71.0 -3.8L75.4 -5.3M66.6 13.8L71.0 15.3L75.4 13.8M66.6 52.6L71.0 54.1L75.4 52.6M66.6 72.6L71.0 74.1L75.4 72.6M66.6 94.2L71.0 95.7L75.4 94.2M66.6 112.4L71.0 113.9L75.4 112.4M66.6 134.3L71.0 135.8L75.4 134.3M66.6 153.8L71.0 155.3L75.4 153.8M66.6 174.8L71.0 176.3L75.4 174.8M66.6 193.7L71.0 195.2L75.4 193.7M76.6 -1.9L81.0 -3.4L85.4 -1.9M76.6 18.0L81.0 16.5L85.4 18.0M76.6 36.4L81.0 34.9L85.4 36.4M76.6 57.9L81.0 56.4L85.4 57.9M76.6 75.5L81.0 74.0L85.4 75.5M76.6 97.3L81.0 95.8L85.4 97.3M76.6 115.2L81.0 113.7L85.4 115.2M76.6 136.7L81.0 135.2L85.4 136.7M76.6 157.0L81.0 155.5L85.4 157.0M76.6 175.2L81.0 173.7L85.4 175.2M76.6 196.8L81.0 195.3L85.4 196.8M86.6 -3.9L92.0 -6.4L97.4 -3.9M86.6 14.1L92.0 11.6L97.4 14.1M86.6 34.1L92.0 31.6L97.4 34.1M86.6 55.9L92.0 53.4L97.4 55.9M86.6 74.6L92.0 72.1L97.4 74.6M86.6 95.5L92.0 93.0L97.4 95.5M86.6 114.9L92.0 112.4L97.4 114.9M86.6 134.0L92.0 131.5L97.4 134.0M86.6 173.9L92.0 171.4L97.4 173.9M86.6 196.4L92.0 193.9L97.4 196.4M98.6 31.4L103.0 29.4L107.4 31.4M98.6 52.7L103.0 50.7L107.4 52.7M98.6 72.9L103.0 70.9L107.4 72.9M98.6 90.9L103.0 88.9L107.4 90.9M98.6 111.2L103.0 109.2L107.4 111.2M98.6 133.1L103.0 131.1L107.4 133.1M98.6 151.4L103.0 149.4L107.4 151.4M98.6 170.9L103.0 168.9L107.4 170.9M98.6 193.0L103.0 191.0L107.4 193.0M108.6 -5.9L112.5 -7.4L116.4 -5.9M108.6 14.6L112.5 13.1L116.4 14.6M108.6 53.7L112.5 52.2L116.4 53.7M108.6 73.6L112.5 72.1L116.4 73.6M108.6 94.1L112.5 92.6L116.4 94.1M108.6 115.5L112.5 114.0L116.4 115.5M108.6 134.3L112.5 132.8L116.4 134.3M108.6 152.9L112.5 151.4L116.4 152.9M108.6 174.3L112.5 172.8L116.4 174.3M108.6 193.7L112.5 192.2L116.4 193.7M117.6 11.3L121.5 12.8L125.4 11.3M117.6 31.3L121.5 32.8L125.4 31.3M117.6 52.5L121.5 54.0L125.4 52.5M117.6 72.4L121.5 73.9L125.4 72.4M117.6 92.5L121.5 94.0L125.4 92.5M117.6 110.9L121.5 112.4L125.4 110.9M117.6 130.5L121.5 132.0L125.4 130.5M117.6 151.2L121.5 152.7L125.4 151.2M117.6 172.0L121.5 173.5L125.4 172.0M117.6 192.6L121.5 194.1L125.4 192.6M126.6 10.4L132.0 11.9L137.4 10.4M126.6 30.9L132.0 32.4L137.4 30.9M126.6 49.0L132.0 50.5L137.4 49.0M126.6 69.8L132.0 71.3L137.4 69.8M126.6 89.8L132.0 91.3L137.4 89.8M126.6 108.8L132.0 110.3L137.4 108.8M126.6 128.4L132.0 129.9L137.4 128.4M126.6 150.5L132.0 152.0L137.4 150.5M126.6 170.6L132.0 172.1L137.4 170.6M126.6 189.1L132.0 190.6L137.4 189.1M138.6 3.9L143.0 6.4L147.4 3.9M138.6 26.0L143.0 28.5L147.4 26.0M138.6 46.5L143.0 49.0L147.4 46.5M138.6 66.6L143.0 69.1L147.4 66.6M138.6 86.6L143.0 89.1L147.4 86.6M138.6 106.9L143.0 109.4L147.4 106.9M138.6 126.1L143.0 128.6L147.4 126.1M138.6 144.0L143.0 146.5L147.4 144.0M138.6 166.1L143.0 168.6L147.4 166.1M138.6 185.7L143.0 188.2L147.4 185.7M148.6 8.2L153.0 9.7L157.4 8.2M148.6 28.6L153.0 30.1L157.4 28.6M148.6 48.1L153.0 49.6L157.4 48.1M148.6 68.2L153.0 69.7L157.4 68.2M148.6 86.9L153.0 88.4L157.4 86.9M148.6 107.5L153.0 109.0L157.4 107.5M148.6 127.1L153.0 128.6L157.4 127.1M148.6 148.3L153.0 149.8L157.4 148.3M148.6 167.8L153.0 169.3L157.4 167.8M148.6 187.1L153.0 188.6L157.4 187.1M158.6 3.1L163.5 4.6L168.4 3.1M158.6 22.7L163.5 24.2L168.4 22.7M158.6 43.2L163.5 44.7L168.4 43.2M158.6 64.1L163.5 65.6L168.4 64.1M158.6 83.9L163.5 85.4L168.4 83.9M158.6 105.5L163.5 107.0L168.4 105.5M158.6 123.9L163.5 125.4L168.4 123.9M158.6 142.9L163.5 144.4L168.4 142.9M158.6 163.0L163.5 164.5L168.4 163.0M158.6 185.0L163.5 186.5L168.4 185.0M158.6 205.3L163.5 206.8L168.4 205.3M169.6 1.5L174.0 -0.0L178.4 1.5M169.6 19.7L174.0 18.2L178.4 19.7M169.6 38.9L174.0 37.4L178.4 38.9M169.6 59.1L174.0 57.6L178.4 59.1M169.6 80.3L174.0 78.8L178.4 80.3M169.6 101.5L174.0 100.0L178.4 101.5M169.6 121.6L174.0 120.1L178.4 121.6M169.6 140.5L174.0 139.0L178.4 140.5M169.6 159.8L174.0 158.3L178.4 159.8M169.6 180.3L174.0 178.8L178.4 180.3M169.6 199.2L174.0 197.7L178.4 199.2M179.6 -0.5L185.0 -3.0L190.4 -0.5M179.6 17.2L185.0 14.7L190.4 17.2M179.6 39.0L185.0 36.5L190.4 39.0M179.6 59.7L185.0 57.2L190.4 59.7M179.6 78.5L185.0 76.0L190.4 78.5M179.6 97.2L185.0 94.7L190.4 97.2M179.6 118.8L185.0 116.3L190.4 118.8M179.6 138.7L185.0 136.2L190.4 138.7M179.6 157.5L185.0 155.0L190.4 157.5M179.6 179.0L185.0 176.5L190.4 179.0M179.6 198.2L185.0 195.7L190.4 198.2M191.6 2.5L195.5 1.0L199.4 2.5M191.6 22.3L195.5 20.8L199.4 22.3M191.6 41.5L195.5 40.0L199.4 41.5M191.6 62.0L195.5 60.5L199.4 62.0M191.6 80.9L195.5 79.4L199.4 80.9M191.6 101.5L195.5 100.0L199.4 101.5M191.6 123.4L195.5 121.9L199.4 123.4M191.6 141.0L195.5 139.5L199.4 141.0M191.6 160.7L195.5 159.2L199.4 160.7M191.6 181.4L195.5 179.9L199.4 181.4M191.6 200.8L195.5 199.3L199.4 200.8M200.6 4.6L204.0 2.6L207.4 4.6M200.6 44.7L204.0 42.7L207.4 44.7M200.6 64.9L204.0 62.9L207.4 64.9M200.6 86.6L204.0 84.6L207.4 86.6M200.6 106.3L204.0 104.3L207.4 106.3M200.6 124.1L204.0 122.1L207.4 124.1M200.6 143.9L204.0 141.9L207.4 143.9M200.6 164.3L204.0 162.3L207.4 164.3M200.6 185.7L204.0 183.7L207.4 185.7M200.6 203.9L204.0 201.9L207.4 203.9M208.6 8.0L213.0 6.5L217.4 8.0M208.6 28.3L213.0 26.8L217.4 28.3M208.6 47.7L213.0 46.2L217.4 47.7M208.6 69.5L213.0 68.0L217.4 69.5M208.6 87.7L213.0 86.2L217.4 87.7M208.6 108.1L213.0 106.6L217.4 108.1M208.6 147.7L213.0 146.2L217.4 147.7M208.6 169.5L213.0 168.0L217.4 169.5M208.6 188.0L213.0 186.5L217.4 188.0M218.6 30.2L222.5 28.2L226.4 30.2M218.6 49.6L222.5 47.6L226.4 49.6M218.6 69.1L222.5 67.1L226.4 69.1M218.6 89.3L222.5 87.3L226.4 89.3M218.6 128.7L222.5 126.7L226.4 128.7M218.6 150.2L222.5 148.2L226.4 150.2M218.6 170.6L222.5 168.6L226.4 170.6M218.6 189.5L222.5 187.5L226.4 189.5M227.6 9.1L231.5 11.6L235.4 9.1M227.6 28.5L231.5 31.0L235.4 28.5M227.6 48.7L231.5 51.2L235.4 48.7M227.6 69.7L231.5 72.2L235.4 69.7M227.6 86.9L231.5 89.4L235.4 86.9M227.6 109.1L231.5 111.6L235.4 109.1M227.6 127.5L231.5 130.0L235.4 127.5M227.6 149.4L231.5 151.9L235.4 149.4M227.6 169.0L231.5 171.5L235.4 169.0M227.6 187.3L231.5 189.8L235.4 187.3M236.6 5.1L240.0 2.6L243.4 5.1M236.6 25.5L240.0 23.0L243.4 25.5M236.6 46.4L240.0 43.9L243.4 46.4M236.6 65.4L240.0 62.9L243.4 65.4M236.6 87.4L240.0 84.9L243.4 87.4M236.6 107.2L240.0 104.7L243.4 107.2M236.6 124.9L240.0 122.4L243.4 124.9M236.6 146.5L240.0 144.0L243.4 146.5M236.6 187.0L240.0 184.5L243.4 187.0M244.6 8.4L249.0 5.9L253.4 8.4M244.6 30.0L249.0 27.5L253.4 30.0M244.6 50.0L249.0 47.5L253.4 50.0M244.6 70.4L249.0 67.9L253.4 70.4M244.6 89.0L249.0 86.5L253.4 89.0M244.6 110.0L249.0 107.5L253.4 110.0M244.6 129.4L249.0 126.9L253.4 129.4M244.6 148.8L249.0 146.3L253.4 148.8M244.6 167.9L249.0 165.4L253.4 167.9M254.6 14.2L259.0 12.7L263.4 14.2M254.6 34.1L259.0 32.6L263.4 34.1M254.6 52.3L259.0 50.8L263.4 52.3M254.6 71.9L259.0 70.4L263.4 71.9M254.6 93.3L259.0 91.8L263.4 93.3M254.6 113.7L259.0 112.2L263.4 113.7M254.6 152.5L259.0 151.0L263.4 152.5M254.6 174.3L259.0 172.8L263.4 174.3M254.6 192.6L259.0 191.1L263.4 192.6"/><path id="wbB" d="M0.6 3.0L5.0 1.5L9.4 3.0M0.6 23.7L5.0 22.2L9.4 23.7M0.6 44.3L5.0 42.8L9.4 44.3M0.6 64.5L5.0 63.0L9.4 64.5M0.6 86.0L5.0 84.5L9.4 86.0M0.6 103.9L5.0 102.4L9.4 103.9M0.6 125.3L5.0 123.8L9.4 125.3M0.6 145.9L5.0 144.4L9.4 145.9M0.6 165.7L5.0 164.2L9.4 165.7M0.6 183.2L5.0 181.7L9.4 183.2M0.6 203.3L5.0 201.8L9.4 203.3M10.6 5.4L16.0 7.9L21.4 5.4M10.6 26.1L16.0 28.6L21.4 26.1M10.6 44.8L16.0 47.3L21.4 44.8M10.6 67.8L16.0 70.3L21.4 67.8M10.6 87.8L16.0 90.3L21.4 87.8M10.6 145.0L16.0 147.5L21.4 145.0M10.6 186.6L16.0 189.1L21.4 186.6M22.6 4.0L27.0 2.0L31.4 4.0M22.6 43.0L27.0 41.0L31.4 43.0M22.6 62.7L27.0 60.7L31.4 62.7M22.6 83.9L27.0 81.9L31.4 83.9M22.6 104.9L27.0 102.9L31.4 104.9M22.6 123.5L27.0 121.5L31.4 123.5M22.6 143.9L27.0 141.9L31.4 143.9M22.6 165.1L27.0 163.1L31.4 165.1M22.6 182.6L27.0 180.6L31.4 182.6M32.6 0.5L38.0 -2.0L43.4 0.5M32.6 21.3L38.0 18.8L43.4 21.3M32.6 39.4L38.0 36.9L43.4 39.4M32.6 62.0L38.0 59.5L43.4 62.0M32.6 79.2L38.0 76.7L43.4 79.2M32.6 119.9L38.0 117.4L43.4 119.9M32.6 141.2L38.0 138.7L43.4 141.2M32.6 160.7L38.0 158.2L43.4 160.7M32.6 179.2L38.0 176.7L43.4 179.2M32.6 201.1L38.0 198.6L43.4 201.1M44.6 -2.8L50.0 -1.3L55.4 -2.8M44.6 18.6L50.0 20.1L55.4 18.6M44.6 37.9L50.0 39.4L55.4 37.9M44.6 58.7L50.0 60.2L55.4 58.7M44.6 77.0L50.0 78.5L55.4 77.0M44.6 96.8L50.0 98.3L55.4 96.8M44.6 117.1L50.0 118.6L55.4 117.1M44.6 136.4L50.0 137.9L55.4 136.4M44.6 156.3L50.0 157.8L55.4 156.3M44.6 178.6L50.0 180.1L55.4 178.6M44.6 197.6L50.0 199.1L55.4 197.6M56.6 -0.3L61.0 -2.8L65.4 -0.3M56.6 20.3L61.0 17.8L65.4 20.3M56.6 39.4L61.0 36.9L65.4 39.4M56.6 60.2L61.0 57.7L65.4 60.2M56.6 80.8L61.0 78.3L65.4 80.8M56.6 98.5L61.0 96.0L65.4 98.5M56.6 119.2L61.0 116.7L65.4 119.2M56.6 160.3L61.0 157.8L65.4 160.3M56.6 178.1L61.0 175.6L65.4 178.1M56.6 198.2L61.0 195.7L65.4 198.2M66.6 2.4L71.0 3.9L75.4 2.4M66.6 23.6L71.0 25.1L75.4 23.6M66.6 42.3L71.0 43.8L75.4 42.3M66.6 64.5L71.0 66.0L75.4 64.5M66.6 84.3L71.0 85.8L75.4 84.3M66.6 103.6L71.0 105.1L75.4 103.6M66.6 123.7L71.0 125.2L75.4 123.7M66.6 143.7L71.0 145.2L75.4 143.7M66.6 163.3L71.0 164.8L75.4 163.3M66.6 184.7L71.0 186.2L75.4 184.7M66.6 202.7L71.0 204.2L75.4 202.7M76.6 5.5L81.0 4.0L85.4 5.5M76.6 27.9L81.0 26.4L85.4 27.9M76.6 46.7L81.0 45.2L85.4 46.7M76.6 67.9L81.0 66.4L85.4 67.9M76.6 85.3L81.0 83.8L85.4 85.3M76.6 105.3L81.0 103.8L85.4 105.3M76.6 127.3L81.0 125.8L85.4 127.3M76.6 146.9L81.0 145.4L85.4 146.9M76.6 167.3L81.0 165.8L85.4 167.3M76.6 187.6L81.0 186.1L85.4 187.6M86.6 4.4L92.0 1.9L97.4 4.4M86.6 26.1L92.0 23.6L97.4 26.1M86.6 44.2L92.0 41.7L97.4 44.2M86.6 65.8L92.0 63.3L97.4 65.8M86.6 83.5L92.0 81.0L97.4 83.5M86.6 106.3L92.0 103.8L97.4 106.3M86.6 124.9L92.0 122.4L97.4 124.9M86.6 143.7L92.0 141.2L97.4 143.7M86.6 165.0L92.0 162.5L97.4 165.0M86.6 184.0L92.0 181.5L97.4 184.0M86.6 203.7L92.0 201.2L97.4 203.7M98.6 2.2L103.0 0.2L107.4 2.2M98.6 21.5L103.0 19.5L107.4 21.5M98.6 42.1L103.0 40.1L107.4 42.1M98.6 60.6L103.0 58.6L107.4 60.6M98.6 83.1L103.0 81.1L107.4 83.1M98.6 101.3L103.0 99.3L107.4 101.3M98.6 122.5L103.0 120.5L107.4 122.5M98.6 141.3L103.0 139.3L107.4 141.3M98.6 160.9L103.0 158.9L107.4 160.9M98.6 181.2L103.0 179.2L107.4 181.2M98.6 203.0L103.0 201.0L107.4 203.0M108.6 5.5L112.5 4.0L116.4 5.5M108.6 25.4L112.5 23.9L116.4 25.4M108.6 44.7L112.5 43.2L116.4 44.7M108.6 83.2L112.5 81.7L116.4 83.2M108.6 105.4L112.5 103.9L116.4 105.4M108.6 124.9L112.5 123.4L116.4 124.9M108.6 142.6L112.5 141.1L116.4 142.6M108.6 163.0L112.5 161.5L116.4 163.0M108.6 204.3L112.5 202.8L116.4 204.3M117.6 1.9L121.5 3.4L125.4 1.9M117.6 20.3L121.5 21.8L125.4 20.3M117.6 42.3L121.5 43.8L125.4 42.3M117.6 62.3L121.5 63.8L125.4 62.3M117.6 100.6L121.5 102.1L125.4 100.6M117.6 120.3L121.5 121.8L125.4 120.3M117.6 141.2L121.5 142.7L125.4 141.2M117.6 161.4L121.5 162.9L125.4 161.4M117.6 181.2L121.5 182.7L125.4 181.2M117.6 201.0L121.5 202.5L125.4 201.0M126.6 -0.1L132.0 1.4L137.4 -0.1M126.6 18.9L132.0 20.4L137.4 18.9M126.6 38.3L132.0 39.8L137.4 38.3M126.6 60.0L132.0 61.5L137.4 60.0M126.6 78.4L132.0 79.9L137.4 78.4M126.6 99.3L132.0 100.8L137.4 99.3M126.6 120.4L132.0 121.9L137.4 120.4M126.6 140.6L132.0 142.1L137.4 140.6M126.6 159.4L132.0 160.9L137.4 159.4M126.6 180.1L132.0 181.6L137.4 180.1M126.6 200.4L132.0 201.9L137.4 200.4M138.6 -4.7L143.0 -2.2L147.4 -4.7M138.6 16.6L143.0 19.1L147.4 16.6M138.6 36.2L143.0 38.7L147.4 36.2M138.6 55.9L143.0 58.4L147.4 55.9M138.6 75.2L143.0 77.7L147.4 75.2M138.6 94.7L143.0 97.2L147.4 94.7M138.6 114.6L143.0 117.1L147.4 114.6M138.6 134.1L143.0 136.6L147.4 134.1M138.6 155.6L143.0 158.1L147.4 155.6M138.6 175.1L143.0 177.6L147.4 175.1M138.6 194.2L143.0 196.7L147.4 194.2M148.6 -3.9L153.0 -2.4L157.4 -3.9M148.6 16.1L153.0 17.6L157.4 16.1M148.6 37.8L153.0 39.3L157.4 37.8M148.6 56.6L153.0 58.1L157.4 56.6M148.6 78.2L153.0 79.7L157.4 78.2M148.6 97.9L153.0 99.4L157.4 97.9M148.6 118.0L153.0 119.5L157.4 118.0M148.6 137.9L153.0 139.4L157.4 137.9M148.6 158.5L153.0 160.0L157.4 158.5M148.6 178.0L153.0 179.5L157.4 178.0M148.6 196.3L153.0 197.8L157.4 196.3M158.6 -5.2L163.5 -3.7L168.4 -5.2M158.6 15.4L163.5 16.9L168.4 15.4M158.6 35.0L163.5 36.5L168.4 35.0M158.6 54.4L163.5 55.9L168.4 54.4M158.6 74.0L163.5 75.5L168.4 74.0M158.6 95.5L163.5 97.0L168.4 95.5M158.6 115.2L163.5 116.7L168.4 115.2M158.6 134.6L163.5 136.1L168.4 134.6M158.6 153.8L163.5 155.3L168.4 153.8M158.6 175.6L163.5 177.1L168.4 175.6M158.6 192.8L163.5 194.3L168.4 192.8M169.6 10.8L174.0 9.3L178.4 10.8M169.6 29.3L174.0 27.8L178.4 29.3M169.6 51.4L174.0 49.9L178.4 51.4M169.6 71.0L174.0 69.5L178.4 71.0M169.6 91.7L174.0 90.2L178.4 91.7M169.6 111.3L174.0 109.8L178.4 111.3M169.6 131.4L174.0 129.9L178.4 131.4M169.6 149.4L174.0 147.9L178.4 149.4M169.6 169.1L174.0 167.6L178.4 169.1M169.6 190.0L174.0 188.5L178.4 190.0M179.6 8.3L185.0 5.8L190.4 8.3M179.6 29.4L185.0 26.9L190.4 29.4M179.6 47.3L185.0 44.8L190.4 47.3M179.6 69.7L185.0 67.2L190.4 69.7M179.6 87.4L185.0 84.9L190.4 87.4M179.6 107.7L185.0 105.2L190.4 107.7M179.6 128.0L185.0 125.5L190.4 128.0M179.6 148.8L185.0 146.3L190.4 148.8M179.6 187.0L185.0 184.5L190.4 187.0M191.6 12.8L195.5 11.3L199.4 12.8M191.6 50.8L195.5 49.3L199.4 50.8M191.6 72.9L195.5 71.4L199.4 72.9M191.6 93.2L195.5 91.7L199.4 93.2M191.6 110.9L195.5 109.4L199.4 110.9M191.6 132.6L195.5 131.1L199.4 132.6M191.6 152.3L195.5 150.8L199.4 152.3M191.6 172.2L195.5 170.7L199.4 172.2M191.6 191.5L195.5 190.0L199.4 191.5M200.6 -4.2L204.0 -6.2L207.4 -4.2M200.6 16.4L204.0 14.4L207.4 16.4M200.6 34.7L204.0 32.7L207.4 34.7M200.6 55.4L204.0 53.4L207.4 55.4M200.6 75.9L204.0 73.9L207.4 75.9M200.6 95.8L204.0 93.8L207.4 95.8M200.6 115.5L204.0 113.5L207.4 115.5M200.6 133.7L204.0 131.7L207.4 133.7M200.6 154.6L204.0 152.6L207.4 154.6M200.6 173.7L204.0 171.7L207.4 173.7M200.6 194.8L204.0 192.8L207.4 194.8M208.6 -0.7L213.0 -2.2L217.4 -0.7M208.6 18.5L213.0 17.0L217.4 18.5M208.6 38.1L213.0 36.6L217.4 38.1M208.6 78.6L213.0 77.1L217.4 78.6M208.6 97.0L213.0 95.5L217.4 97.0M208.6 118.0L213.0 116.5L217.4 118.0M208.6 138.3L213.0 136.8L217.4 138.3M208.6 157.5L213.0 156.0L217.4 157.5M208.6 178.8L213.0 177.3L217.4 178.8M208.6 197.4L213.0 195.9L217.4 197.4M218.6 0.8L222.5 -1.2L226.4 0.8M218.6 20.0L222.5 18.0L226.4 20.0M218.6 40.7L222.5 38.7L226.4 40.7M218.6 59.6L222.5 57.6L226.4 59.6M218.6 81.0L222.5 79.0L226.4 81.0M218.6 100.7L222.5 98.7L226.4 100.7M218.6 121.2L222.5 119.2L226.4 121.2M218.6 140.7L222.5 138.7L226.4 140.7M218.6 161.5L222.5 159.5L226.4 161.5M218.6 181.1L222.5 179.1L226.4 181.1M218.6 201.3L222.5 199.3L226.4 201.3M227.6 -2.6L231.5 -0.1L235.4 -2.6M227.6 18.7L231.5 21.2L235.4 18.7M227.6 37.6L231.5 40.1L235.4 37.6M227.6 58.6L231.5 61.1L235.4 58.6M227.6 78.3L231.5 80.8L235.4 78.3M227.6 97.6L231.5 100.1L235.4 97.6M227.6 117.6L231.5 120.1L235.4 117.6M227.6 138.4L231.5 140.9L235.4 138.4M227.6 156.8L231.5 159.3L235.4 156.8M227.6 179.5L231.5 182.0L235.4 179.5M227.6 198.7L231.5 201.2L235.4 198.7M236.6 -3.5L240.0 -6.0L243.4 -3.5M236.6 16.8L240.0 14.3L243.4 16.8M236.6 36.9L240.0 34.4L243.4 36.9M236.6 56.6L240.0 54.1L243.4 56.6M236.6 74.9L240.0 72.4L243.4 74.9M236.6 96.6L240.0 94.1L243.4 96.6M236.6 116.9L240.0 114.4L243.4 116.9M236.6 135.3L240.0 132.8L243.4 135.3M236.6 156.6L240.0 154.1L243.4 156.6M236.6 176.8L240.0 174.3L243.4 176.8M236.6 197.1L240.0 194.6L243.4 197.1M244.6 -1.0L249.0 -3.5L253.4 -1.0M244.6 17.9L249.0 15.4L253.4 17.9M244.6 38.2L249.0 35.7L253.4 38.2M244.6 78.9L249.0 76.4L253.4 78.9M244.6 97.9L249.0 95.4L253.4 97.9M244.6 118.4L249.0 115.9L253.4 118.4M244.6 139.1L249.0 136.6L253.4 139.1M244.6 160.7L249.0 158.2L253.4 160.7M244.6 179.7L249.0 177.2L253.4 179.7M244.6 199.8L249.0 197.3L253.4 199.8M254.6 2.5L259.0 1.0L263.4 2.5M254.6 23.0L259.0 21.5L263.4 23.0M254.6 43.3L259.0 41.8L263.4 43.3M254.6 63.4L259.0 61.9L263.4 63.4M254.6 84.6L259.0 83.1L263.4 84.6M254.6 103.3L259.0 101.8L263.4 103.3M254.6 122.1L259.0 120.6L263.4 122.1M254.6 144.1L259.0 142.6L263.4 144.1M254.6 162.1L259.0 160.6L263.4 162.1M254.6 184.3L259.0 182.8L263.4 184.3M254.6 203.8L259.0 202.3L263.4 203.8"/><pattern id="pcB" patternUnits="userSpaceOnUse" width="264" height="200"><rect width="264" height="200" fill="#d2c2ec"/><use href="#waB" fill="none" stroke="#0c0cac" stroke-width="7.2"/><use href="#wbB" fill="none" stroke="#7a0a7e" stroke-width="7.2"/></pattern><pattern id="pgB" patternUnits="userSpaceOnUse" width="264" height="200"><use href="#waB" fill="none" stroke="#444" stroke-width="5.5"/><use href="#wbB" fill="none" stroke="#777" stroke-width="5.5"/></pattern><mask id="mgTL" maskUnits="userSpaceOnUse" x="0" y="0" width="2497" height="1617"><g filter="url(#mblur)"><path fill="rgb(15,15,15)" d="M518 264h40v40h-40zM518 304h80v40h-80zM558 344h40v40h-40zM518 384h40v40h-40zM78 424h80v40h-80zM518 424h40v40h-40zM78 464h80v40h-80zM518 464h40v40h-40zM718 464h40v40h-40zM238 504h80v40h-80zM478 504h80v40h-80zM598 504h40v40h-40zM678 504h40v40h-40zM758 504h40v40h-40zM878 504h40v40h-40zM998 504h80v40h-80zM278 544h40v40h-40zM478 544h40v40h-40zM598 544h40v40h-40zM678 544h40v40h-40zM758 544h40v40h-40zM878 544h40v40h-40zM998 544h80v40h-80zM238 584h80v40h-80zM478 584h40v40h-40zM598 584h40v40h-40zM758 584h40v40h-40zM998 584h80v40h-80zM78 624h280v40h-280zM478 624h40v40h-40zM598 624h40v40h-40zM678 624h40v40h-40zM758 624h80v40h-80zM998 624h80v40h-80zM78 664h280v40h-280zM478 664h40v40h-40zM598 664h120v40h-120zM758 664h120v40h-120zM998 664h80v40h-80zM78 704h280v40h-280zM478 704h40v40h-40zM598 704h120v40h-120zM758 704h120v40h-120zM78 744h200v40h-200zM318 744h40v40h-40zM638 744h80v40h-80zM758 744h40v40h-40zM878 744h40v40h-40zM998 744h80v40h-80zM78 784h280v40h-280zM478 784h40v40h-40zM638 784h40v40h-40zM758 784h40v40h-40zM838 784h40v40h-40zM998 784h80v40h-80zM78 824h280v40h-280zM478 824h40v40h-40zM638 824h40v40h-40zM718 824h160v40h-160zM998 824h80v40h-80zM78 864h160v40h-160zM318 864h80v40h-80zM478 864h40v40h-40zM638 864h40v40h-40zM718 864h200v40h-200zM958 864h120v40h-120zM78 904h160v40h-160zM318 904h80v40h-80zM478 904h40v40h-40zM638 904h40v40h-40zM718 904h200v40h-200zM958 904h120v40h-120z"/><path fill="rgb(38,38,38)" d="M558 264h40v40h-40zM718 304h80v40h-80zM718 344h80v40h-80zM78 384h160v40h-160zM718 384h40v40h-40zM158 424h160v40h-160zM718 424h80v40h-80zM158 464h160v40h-160zM598 464h40v40h-40zM758 464h40v40h-40zM998 464h80v40h-80zM78 504h80v40h-80zM198 504h40v40h-40zM358 504h80v40h-80zM838 504h40v40h-40zM78 544h80v40h-80zM238 544h40v40h-40zM318 544h120v40h-120zM958 544h40v40h-40zM78 584h160v40h-160zM318 584h120v40h-120zM678 584h40v40h-40zM798 584h40v40h-40zM878 584h40v40h-40zM958 584h40v40h-40zM358 624h80v40h-80zM638 624h40v40h-40zM838 624h40v40h-40zM958 624h40v40h-40zM358 664h120v40h-120zM878 664h40v40h-40zM358 704h120v40h-120zM878 704h40v40h-40zM998 704h80v40h-80zM398 744h80v40h-80zM798 744h80v40h-80zM918 744h40v40h-40zM398 784h80v40h-80zM798 784h40v40h-40zM918 784h80v40h-80zM358 824h120v40h-120zM878 824h120v40h-120zM398 864h80v40h-80zM918 864h40v40h-40zM398 904h80v40h-80zM918 904h40v40h-40z"/><path fill="rgb(71,71,71)" d="M198 304h40v40h-40zM598 304h40v40h-40zM78 344h200v40h-200zM598 344h40v40h-40zM998 344h80v40h-80zM238 384h80v40h-80zM678 384h40v40h-40zM758 384h40v40h-40zM998 384h80v40h-80zM598 424h40v40h-40zM678 424h40v40h-40zM998 424h80v40h-80zM318 464h40v40h-40zM478 464h40v40h-40zM678 464h40v40h-40zM798 464h120v40h-120zM158 504h40v40h-40zM318 504h40v40h-40zM638 504h40v40h-40zM798 504h40v40h-40zM918 504h80v40h-80zM158 544h80v40h-80zM438 544h40v40h-40zM638 544h40v40h-40zM798 544h40v40h-40zM638 584h40v40h-40zM838 584h40v40h-40zM438 624h40v40h-40zM878 624h80v40h-80zM918 664h80v40h-80zM918 704h80v40h-80zM358 744h40v40h-40zM958 744h40v40h-40zM358 784h40v40h-40zM878 784h40v40h-40z"/><path fill="rgb(115,115,115)" d="M438 264h40v40h-40zM758 264h40v40h-40zM358 304h40v40h-40zM998 304h80v40h-80zM278 344h40v40h-40zM438 344h80v40h-80zM598 384h40v40h-40zM838 384h40v40h-40zM478 424h40v40h-40zM838 424h80v40h-80zM358 464h80v40h-80zM958 464h40v40h-40zM438 504h40v40h-40zM838 544h40v40h-40zM438 584h40v40h-40zM918 584h40v40h-40z"/><path fill="rgb(158,158,158)" d="M398 264h40v40h-40zM78 304h120v40h-120zM238 304h80v40h-80zM438 304h80v40h-80zM358 344h80v40h-80zM638 344h80v40h-80zM838 344h40v40h-40zM478 384h40v40h-40zM878 384h40v40h-40zM318 424h40v40h-40zM638 464h40v40h-40zM918 464h40v40h-40zM918 544h40v40h-40z"/><path fill="rgb(178,178,178)" d="M518 144h40v40h-40zM518 184h40v40h-40zM438 224h40v40h-40zM518 224h40v40h-40zM758 224h40v40h-40zM198 264h40v40h-40zM478 264h40v40h-40zM718 264h40v40h-40zM958 264h40v40h-40zM398 304h40v40h-40zM878 304h40v40h-40zM958 304h40v40h-40zM798 344h40v40h-40zM958 344h40v40h-40zM358 384h80v40h-80zM798 384h40v40h-40zM358 424h80v40h-80zM798 424h40v40h-40zM438 464h40v40h-40z"/><path fill="rgb(184,184,184)" d="M78 144h440v40h-440zM558 144h520v40h-520zM78 184h440v40h-440zM558 184h520v40h-520zM78 224h360v40h-360zM478 224h40v40h-40zM558 224h200v40h-200zM798 224h280v40h-280zM78 264h120v40h-120zM238 264h160v40h-160zM598 264h120v40h-120zM798 264h160v40h-160zM998 264h80v40h-80zM318 304h40v40h-40zM638 304h80v40h-80zM798 304h80v40h-80zM918 304h40v40h-40zM318 344h40v40h-40zM878 344h80v40h-80zM318 384h40v40h-40zM438 384h40v40h-40zM638 384h40v40h-40zM918 384h80v40h-80zM438 424h40v40h-40zM638 424h40v40h-40zM918 424h80v40h-80z"/></g></mask><mask id="mcTL" maskUnits="userSpaceOnUse" x="0" y="0" width="2497" height="1617"><g filter="url(#mblur)"><path fill="rgb(26,26,26)" d="M438 264h40v40h-40zM758 264h40v40h-40zM358 304h40v40h-40zM998 304h80v40h-80zM278 344h40v40h-40zM438 344h80v40h-80zM598 384h40v40h-40zM838 384h40v40h-40zM478 424h40v40h-40zM838 424h80v40h-80zM358 464h80v40h-80zM958 464h40v40h-40zM438 504h40v40h-40zM838 544h40v40h-40zM438 584h40v40h-40zM918 584h40v40h-40z"/><path fill="rgb(76,76,76)" d="M398 264h40v40h-40zM78 304h120v40h-120zM238 304h80v40h-80zM438 304h80v40h-80zM358 344h80v40h-80zM638 344h80v40h-80zM838 344h40v40h-40zM478 384h40v40h-40zM878 384h40v40h-40zM318 424h40v40h-40zM638 464h40v40h-40zM918 464h40v40h-40zM918 544h40v40h-40z"/><path fill="rgb(128,128,128)" d="M518 144h40v40h-40zM518 184h40v40h-40zM438 224h40v40h-40zM518 224h40v40h-40zM758 224h40v40h-40zM198 264h40v40h-40zM478 264h40v40h-40zM718 264h40v40h-40zM958 264h40v40h-40zM398 304h40v40h-40zM878 304h40v40h-40zM958 304h40v40h-40zM798 344h40v40h-40zM958 344h40v40h-40zM358 384h80v40h-80zM798 384h40v40h-40zM358 424h80v40h-80zM798 424h40v40h-40zM438 464h40v40h-40z"/><path fill="rgb(178,178,178)" d="M438 144h80v40h-80zM758 144h40v40h-40zM878 144h40v40h-40zM438 184h80v40h-80zM758 184h40v40h-40zM878 184h40v40h-40zM478 224h40v40h-40zM558 224h40v40h-40zM958 224h40v40h-40zM238 264h40v40h-40zM358 264h40v40h-40zM598 264h40v40h-40zM878 264h40v40h-40zM998 264h80v40h-80zM318 304h40v40h-40zM638 304h80v40h-80zM838 304h40v40h-40zM918 304h40v40h-40zM318 344h40v40h-40zM918 344h40v40h-40zM318 384h40v40h-40zM438 384h40v40h-40zM638 384h40v40h-40zM958 384h40v40h-40zM438 424h40v40h-40zM638 424h40v40h-40zM958 424h40v40h-40z"/><path fill="rgb(224,224,224)" d="M238 144h40v40h-40zM358 144h80v40h-80zM558 144h200v40h-200zM798 144h80v40h-80zM918 144h160v40h-160zM238 184h40v40h-40zM358 184h80v40h-80zM558 184h200v40h-200zM798 184h80v40h-80zM918 184h160v40h-160zM238 224h40v40h-40zM318 224h120v40h-120zM598 224h40v40h-40zM678 224h80v40h-80zM838 224h120v40h-120zM998 224h80v40h-80zM78 264h120v40h-120zM278 264h80v40h-80zM638 264h80v40h-80zM798 264h80v40h-80zM918 264h40v40h-40zM798 304h40v40h-40zM878 344h40v40h-40zM918 424h40v40h-40z"/><path fill="rgb(255,255,255)" d="M78 144h160v40h-160zM278 144h80v40h-80zM78 184h160v40h-160zM278 184h80v40h-80zM78 224h160v40h-160zM278 224h40v40h-40zM638 224h40v40h-40zM798 224h40v40h-40zM918 384h40v40h-40z"/></g></mask><clipPath id="cpTL"><rect x="118" y="184" width="923" height="706"/></clipPath><mask id="mgBL" maskUnits="userSpaceOnUse" x="0" y="0" width="2497" height="1617"><g filter="url(#mblur)"><path fill="rgb(15,15,15)" d="M518 992h80v40h-80zM558 1032h40v40h-40zM558 1072h40v40h-40zM558 1112h40v40h-40zM558 1152h80v40h-80zM598 1192h40v40h-40zM478 1232h40v40h-40zM598 1232h40v40h-40zM678 1232h40v40h-40zM998 1232h80v40h-80zM478 1272h40v40h-40zM598 1272h120v40h-120zM998 1272h80v40h-80zM478 1312h40v40h-40zM598 1312h80v40h-80zM918 1312h40v40h-40zM998 1312h80v40h-80zM278 1352h80v40h-80zM478 1352h40v40h-40zM598 1352h80v40h-80zM758 1352h80v40h-80zM918 1352h160v40h-160zM198 1392h40v40h-40zM278 1392h80v40h-80zM478 1392h40v40h-40zM598 1392h80v40h-80zM758 1392h80v40h-80zM918 1392h160v40h-160zM198 1432h40v40h-40zM278 1432h120v40h-120zM438 1432h80v40h-80zM638 1432h40v40h-40zM758 1432h80v40h-80zM918 1432h160v40h-160zM198 1472h40v40h-40zM278 1472h120v40h-120zM438 1472h40v40h-40zM758 1472h80v40h-80zM918 1472h160v40h-160zM158 1512h360v40h-360zM758 1512h80v40h-80zM918 1512h80v40h-80zM78 1552h440v40h-440zM758 1552h80v40h-80zM918 1552h80v40h-80zM78 1592h440v40h-440zM758 1592h80v40h-80zM918 1592h80v40h-80z"/><path fill="rgb(38,38,38)" d="M518 952h40v40h-40zM598 992h40v40h-40zM478 1032h40v40h-40zM598 1032h40v40h-40zM478 1072h40v40h-40zM598 1072h40v40h-40zM478 1112h40v40h-40zM598 1112h40v40h-40zM278 1152h40v40h-40zM478 1152h40v40h-40zM678 1152h80v40h-80zM998 1152h80v40h-80zM238 1192h160v40h-160zM478 1192h40v40h-40zM678 1192h80v40h-80zM998 1192h80v40h-80zM78 1232h360v40h-360zM638 1232h40v40h-40zM758 1232h80v40h-80zM918 1232h80v40h-80zM78 1272h120v40h-120zM278 1272h40v40h-40zM398 1272h80v40h-80zM758 1272h80v40h-80zM918 1272h80v40h-80zM158 1312h320v40h-320zM758 1312h80v40h-80zM878 1312h40v40h-40zM958 1312h40v40h-40zM158 1352h120v40h-120zM358 1352h120v40h-120zM878 1352h40v40h-40zM158 1392h40v40h-40zM238 1392h40v40h-40zM358 1392h120v40h-120zM878 1392h40v40h-40zM78 1432h120v40h-120zM398 1432h40v40h-40zM878 1432h40v40h-40zM78 1472h120v40h-120zM238 1472h40v40h-40zM398 1472h40v40h-40zM878 1472h40v40h-40zM78 1512h80v40h-80zM878 1512h40v40h-40zM878 1552h40v40h-40zM878 1592h40v40h-40z"/><path fill="rgb(71,71,71)" d="M638 1032h40v40h-40zM238 1072h40v40h-40zM638 1072h80v40h-80zM918 1072h160v40h-160zM198 1112h120v40h-120zM638 1112h120v40h-120zM918 1112h160v40h-160zM78 1152h80v40h-80zM198 1152h80v40h-80zM318 1152h80v40h-80zM638 1152h40v40h-40zM758 1152h80v40h-80zM918 1152h80v40h-80zM78 1192h80v40h-80zM198 1192h40v40h-40zM398 1192h80v40h-80zM638 1192h40v40h-40zM758 1192h80v40h-80zM918 1192h80v40h-80zM438 1232h40v40h-40zM878 1232h40v40h-40zM318 1272h80v40h-80zM838 1272h80v40h-80zM838 1312h40v40h-40zM78 1352h80v40h-80zM78 1392h80v40h-80zM238 1432h40v40h-40zM838 1472h40v40h-40zM838 1512h40v40h-40zM838 1552h40v40h-40zM838 1592h40v40h-40z"/><path fill="rgb(115,115,115)" d="M518 872h40v40h-40zM518 912h40v40h-40zM558 952h40v40h-40zM478 992h40v40h-40zM238 1032h40v40h-40zM438 1032h40v40h-40zM718 1032h40v40h-40zM918 1032h40v40h-40zM198 1072h40v40h-40zM718 1072h40v40h-40zM798 1072h40v40h-40zM358 1112h40v40h-40zM758 1112h80v40h-80zM838 1152h40v40h-40zM158 1192h40v40h-40zM878 1192h40v40h-40zM838 1232h40v40h-40zM238 1272h40v40h-40zM78 1312h80v40h-80zM838 1432h40v40h-40z"/><path fill="rgb(158,158,158)" d="M598 872h40v40h-40zM598 912h40v40h-40zM478 952h40v40h-40zM598 952h40v40h-40zM438 992h40v40h-40zM198 1032h40v40h-40zM678 1032h40v40h-40zM798 1032h40v40h-40zM958 1032h120v40h-120zM278 1072h40v40h-40zM398 1072h40v40h-40zM758 1072h40v40h-40zM398 1112h40v40h-40zM398 1152h80v40h-80zM198 1272h40v40h-40zM838 1352h40v40h-40zM838 1392h40v40h-40z"/><path fill="rgb(178,178,178)" d="M478 872h40v40h-40zM558 872h40v40h-40zM998 872h80v40h-80zM478 912h40v40h-40zM558 912h40v40h-40zM998 912h80v40h-80zM438 952h40v40h-40zM638 952h80v40h-80zM998 952h80v40h-80zM238 992h40v40h-40zM638 992h120v40h-120zM798 992h40v40h-40zM878 992h80v40h-80zM998 992h80v40h-80zM278 1032h40v40h-40zM398 1032h40v40h-40zM758 1032h40v40h-40zM878 1032h40v40h-40zM158 1072h40v40h-40zM358 1072h40v40h-40zM438 1072h40v40h-40zM878 1072h40v40h-40zM78 1112h120v40h-120zM158 1152h40v40h-40zM878 1152h40v40h-40zM838 1192h40v40h-40z"/><path fill="rgb(184,184,184)" d="M78 872h400v40h-400zM638 872h360v40h-360zM78 912h400v40h-400zM638 912h360v40h-360zM78 952h360v40h-360zM718 952h280v40h-280zM78 992h160v40h-160zM278 992h160v40h-160zM758 992h40v40h-40zM838 992h40v40h-40zM958 992h40v40h-40zM78 1032h120v40h-120zM318 1032h80v40h-80zM838 1032h40v40h-40zM78 1072h80v40h-80zM318 1072h40v40h-40zM838 1072h40v40h-40zM318 1112h40v40h-40zM438 1112h40v40h-40zM838 1112h80v40h-80z"/></g></mask><mask id="mcBL" maskUnits="userSpaceOnUse" x="0" y="0" width="2497" height="1617"><g filter="url(#mblur)"><path fill="rgb(26,26,26)" d="M518 872h40v40h-40zM518 912h40v40h-40zM558 952h40v40h-40zM478 992h40v40h-40zM238 1032h40v40h-40zM438 1032h40v40h-40zM718 1032h40v40h-40zM918 1032h40v40h-40zM198 1072h40v40h-40zM718 1072h40v40h-40zM798 1072h40v40h-40zM358 1112h40v40h-40zM758 1112h80v40h-80zM838 1152h40v40h-40zM158 1192h40v40h-40zM878 1192h40v40h-40zM838 1232h40v40h-40zM238 1272h40v40h-40zM78 1312h80v40h-80zM838 1432h40v40h-40z"/><path fill="rgb(76,76,76)" d="M598 872h40v40h-40zM598 912h40v40h-40zM478 952h40v40h-40zM598 952h40v40h-40zM438 992h40v40h-40zM198 1032h40v40h-40zM678 1032h40v40h-40zM798 1032h40v40h-40zM958 1032h120v40h-120zM278 1072h40v40h-40zM398 1072h40v40h-40zM758 1072h40v40h-40zM398 1112h40v40h-40zM398 1152h80v40h-80zM198 1272h40v40h-40zM838 1352h40v40h-40zM838 1392h40v40h-40z"/><path fill="rgb(128,128,128)" d="M478 872h40v40h-40zM558 872h40v40h-40zM998 872h80v40h-80zM478 912h40v40h-40zM558 912h40v40h-40zM998 912h80v40h-80zM438 952h40v40h-40zM638 952h80v40h-80zM998 952h80v40h-80zM238 992h40v40h-40zM638 992h120v40h-120zM798 992h40v40h-40zM878 992h80v40h-80zM998 992h80v40h-80zM278 1032h40v40h-40zM398 1032h40v40h-40zM758 1032h40v40h-40zM878 1032h40v40h-40zM158 1072h40v40h-40zM358 1072h40v40h-40zM438 1072h40v40h-40zM878 1072h40v40h-40zM78 1112h120v40h-120zM158 1152h40v40h-40zM878 1152h40v40h-40zM838 1192h40v40h-40z"/><path fill="rgb(178,178,178)" d="M438 872h40v40h-40zM678 872h40v40h-40zM798 872h40v40h-40zM918 872h80v40h-80zM438 912h40v40h-40zM678 912h40v40h-40zM798 912h40v40h-40zM918 912h80v40h-80zM798 952h40v40h-40zM918 952h40v40h-40zM198 992h40v40h-40zM318 992h40v40h-40zM398 992h40v40h-40zM838 992h40v40h-40zM958 992h40v40h-40zM318 1032h80v40h-80zM838 1032h40v40h-40zM78 1072h80v40h-80zM318 1112h40v40h-40zM438 1112h40v40h-40zM878 1112h40v40h-40z"/><path fill="rgb(224,224,224)" d="M198 872h40v40h-40zM278 872h80v40h-80zM398 872h40v40h-40zM638 872h40v40h-40zM718 872h80v40h-80zM838 872h80v40h-80zM198 912h40v40h-40zM278 912h80v40h-80zM398 912h40v40h-40zM638 912h40v40h-40zM718 912h80v40h-80zM838 912h80v40h-80zM78 952h200v40h-200zM318 952h40v40h-40zM398 952h40v40h-40zM718 952h80v40h-80zM838 952h80v40h-80zM958 952h40v40h-40zM78 992h120v40h-120zM278 992h40v40h-40zM358 992h40v40h-40zM758 992h40v40h-40zM158 1032h40v40h-40zM318 1072h40v40h-40zM838 1072h40v40h-40zM838 1112h40v40h-40z"/><path fill="rgb(255,255,255)" d="M78 872h120v40h-120zM238 872h40v40h-40zM358 872h40v40h-40zM78 912h120v40h-120zM238 912h40v40h-40zM358 912h40v40h-40zM278 952h40v40h-40zM358 952h40v40h-40zM78 1032h80v40h-80z"/></g></mask><clipPath id="cpBL"><rect x="118" y="912" width="923" height="678"/></clipPath><mask id="mgTR" maskUnits="userSpaceOnUse" x="0" y="0" width="2497" height="1617"><g filter="url(#mblur)"><path fill="rgb(15,15,15)" d="M2120 422h40v40h-40zM1720 462h40v40h-40zM2120 462h40v40h-40zM1720 502h80v40h-80zM2080 502h80v40h-80zM1760 542h40v40h-40zM2040 542h80v40h-80zM2320 542h80v40h-80zM1760 582h40v40h-40zM1920 582h40v40h-40zM2040 582h80v40h-80zM2200 582h40v40h-40zM2320 582h80v40h-80zM1680 622h40v40h-40zM1760 622h80v40h-80zM1920 622h40v40h-40zM2040 622h80v40h-80zM2160 622h80v40h-80zM2280 622h120v40h-120zM1680 662h40v40h-40zM1800 662h40v40h-40zM1880 662h80v40h-80zM2040 662h40v40h-40zM2160 662h80v40h-80zM2280 662h120v40h-120zM1640 702h40v40h-40zM1800 702h200v40h-200zM2040 702h40v40h-40zM2160 702h80v40h-80zM2280 702h120v40h-120zM1640 742h40v40h-40zM1800 742h240v40h-240zM2120 742h280v40h-280zM1640 782h40v40h-40zM1800 782h240v40h-240zM2120 782h280v40h-280zM1600 822h80v40h-80zM1840 822h200v40h-200zM2120 822h280v40h-280zM1240 862h160v40h-160zM1440 862h40v40h-40zM1600 862h80v40h-80zM1840 862h200v40h-200zM2120 862h280v40h-280zM1240 902h160v40h-160zM1440 902h40v40h-40zM1600 902h80v40h-80zM1840 902h200v40h-200zM2120 902h280v40h-280z"/><path fill="rgb(38,38,38)" d="M2120 382h40v40h-40zM1920 422h40v40h-40zM1680 462h40v40h-40zM1760 462h40v40h-40zM1920 462h40v40h-40zM2040 462h80v40h-80zM2200 462h200v40h-200zM1680 502h40v40h-40zM1800 502h40v40h-40zM1920 502h80v40h-80zM2040 502h40v40h-40zM2160 502h240v40h-240zM1680 542h40v40h-40zM1800 542h40v40h-40zM1920 542h80v40h-80zM2160 542h160v40h-160zM1640 582h80v40h-80zM1800 582h40v40h-40zM1880 582h40v40h-40zM1960 582h80v40h-80zM2160 582h40v40h-40zM2240 582h80v40h-80zM1840 622h80v40h-80zM1960 622h80v40h-80zM2240 622h40v40h-40zM1640 662h40v40h-40zM1840 662h40v40h-40zM1960 662h80v40h-80zM2240 662h40v40h-40zM1240 702h160v40h-160zM1480 702h80v40h-80zM1600 702h40v40h-40zM2000 702h40v40h-40zM2240 702h40v40h-40zM1240 742h80v40h-80zM1360 742h160v40h-160zM1600 742h40v40h-40zM1240 782h80v40h-80zM1360 782h160v40h-160zM1600 782h40v40h-40zM1240 822h280v40h-280zM1560 822h40v40h-40zM1400 862h40v40h-40zM1480 862h40v40h-40zM1560 862h40v40h-40zM1400 902h40v40h-40zM1480 902h40v40h-40zM1560 902h40v40h-40z"/><path fill="rgb(71,71,71)" d="M2200 302h40v40h-40zM2120 342h40v40h-40zM2200 342h40v40h-40zM2320 342h80v40h-80zM2160 382h80v40h-80zM2280 382h120v40h-120zM1960 422h40v40h-40zM2040 422h80v40h-80zM2160 422h240v40h-240zM1800 462h40v40h-40zM1960 462h40v40h-40zM2160 462h40v40h-40zM1880 502h40v40h-40zM2000 502h40v40h-40zM1640 542h40v40h-40zM1840 542h80v40h-80zM2000 542h40v40h-40zM1320 582h80v40h-80zM1520 582h120v40h-120zM1840 582h40v40h-40zM1240 622h160v40h-160zM1480 622h200v40h-200zM1240 662h160v40h-160zM1480 662h160v40h-160zM1400 702h80v40h-80zM1560 702h40v40h-40zM1320 742h40v40h-40zM1520 742h80v40h-80zM1320 782h40v40h-40zM1560 782h40v40h-40zM1520 822h40v40h-40zM1520 862h40v40h-40zM1520 902h40v40h-40z"/><path fill="rgb(115,115,115)" d="M2160 302h40v40h-40zM2320 302h80v40h-80zM2160 342h40v40h-40zM2280 342h40v40h-40zM1920 382h200v40h-200zM1760 422h40v40h-40zM2000 422h40v40h-40zM1880 462h40v40h-40zM2000 462h40v40h-40zM1640 502h40v40h-40zM1840 502h40v40h-40zM1320 542h40v40h-40zM1480 582h40v40h-40zM1520 782h40v40h-40z"/><path fill="rgb(158,158,158)" d="M2200 262h40v40h-40zM2320 262h80v40h-80zM2000 342h40v40h-40zM2240 382h40v40h-40zM1680 422h80v40h-80zM1640 462h40v40h-40zM1840 462h40v40h-40zM1360 542h40v40h-40zM1520 542h120v40h-120zM1440 622h40v40h-40zM1440 662h40v40h-40z"/><path fill="rgb(178,178,178)" d="M2320 222h80v40h-80zM2120 302h40v40h-40zM2040 342h80v40h-80zM1800 422h120v40h-120zM1440 502h40v40h-40zM1560 502h80v40h-80zM1240 542h80v40h-80zM1400 542h120v40h-120zM1240 582h80v40h-80zM1400 582h40v40h-40zM1400 622h40v40h-40zM1400 662h40v40h-40z"/><path fill="rgb(184,184,184)" d="M1240 102h1160v40h-1160zM1240 142h1160v40h-1160zM1240 182h1160v40h-1160zM1240 222h1080v40h-1080zM1240 262h960v40h-960zM2240 262h80v40h-80zM1240 302h880v40h-880zM2240 302h80v40h-80zM1240 342h760v40h-760zM2240 342h40v40h-40zM1240 382h680v40h-680zM1240 422h440v40h-440zM1240 462h400v40h-400zM1240 502h200v40h-200zM1480 502h80v40h-80zM1440 582h40v40h-40z"/></g></mask><mask id="mcTR" maskUnits="userSpaceOnUse" x="0" y="0" width="2497" height="1617"><g filter="url(#mblur)"><path fill="rgb(26,26,26)" d="M2160 302h40v40h-40zM2320 302h80v40h-80zM2160 342h40v40h-40zM2280 342h40v40h-40zM1920 382h200v40h-200zM1760 422h40v40h-40zM2000 422h40v40h-40zM1880 462h40v40h-40zM2000 462h40v40h-40zM1640 502h40v40h-40zM1840 502h40v40h-40zM1320 542h40v40h-40zM1480 582h40v40h-40zM1520 782h40v40h-40z"/><path fill="rgb(76,76,76)" d="M2200 262h40v40h-40zM2320 262h80v40h-80zM2000 342h40v40h-40zM2240 382h40v40h-40zM1680 422h80v40h-80zM1640 462h40v40h-40zM1840 462h40v40h-40zM1360 542h40v40h-40zM1520 542h120v40h-120zM1440 622h40v40h-40zM1440 662h40v40h-40z"/><path fill="rgb(128,128,128)" d="M2320 222h80v40h-80zM2120 302h40v40h-40zM2040 342h80v40h-80zM1800 422h120v40h-120zM1440 502h40v40h-40zM1560 502h80v40h-80zM1240 542h80v40h-80zM1400 542h120v40h-120zM1240 582h80v40h-80zM1400 582h40v40h-40zM1400 622h40v40h-40zM1400 662h40v40h-40z"/><path fill="rgb(178,178,178)" d="M1640 102h240v40h-240zM1920 102h40v40h-40zM2000 102h40v40h-40zM2080 102h40v40h-40zM2160 102h40v40h-40zM2320 102h80v40h-80zM1640 142h240v40h-240zM1920 142h40v40h-40zM2000 142h40v40h-40zM2080 142h40v40h-40zM2160 142h40v40h-40zM2320 142h80v40h-80zM1640 182h240v40h-240zM1920 182h40v40h-40zM2000 182h40v40h-40zM2080 182h40v40h-40zM2160 182h40v40h-40zM2320 182h80v40h-80zM1640 222h240v40h-240zM1920 222h40v40h-40zM2000 222h40v40h-40zM2080 222h40v40h-40zM1640 262h240v40h-240zM1920 262h40v40h-40zM2000 262h40v40h-40zM2160 262h40v40h-40zM2240 262h40v40h-40zM1640 302h240v40h-240zM1920 302h40v40h-40zM2000 302h80v40h-80zM2280 302h40v40h-40zM1640 342h320v40h-320zM1640 382h160v40h-160zM1840 382h80v40h-80zM1640 422h40v40h-40zM1600 462h40v40h-40zM1240 502h200v40h-200zM1480 502h80v40h-80zM1440 582h40v40h-40z"/><path fill="rgb(224,224,224)" d="M1240 102h400v40h-400zM1880 102h40v40h-40zM1960 102h40v40h-40zM2040 102h40v40h-40zM2120 102h40v40h-40zM2200 102h120v40h-120zM1240 142h400v40h-400zM1880 142h40v40h-40zM1960 142h40v40h-40zM2040 142h40v40h-40zM2120 142h40v40h-40zM2200 142h120v40h-120zM1240 182h400v40h-400zM1880 182h40v40h-40zM1960 182h40v40h-40zM2040 182h40v40h-40zM2120 182h40v40h-40zM2200 182h120v40h-120zM1240 222h400v40h-400zM1880 222h40v40h-40zM1960 222h40v40h-40zM2040 222h40v40h-40zM2120 222h200v40h-200zM1240 262h400v40h-400zM1880 262h40v40h-40zM1960 262h40v40h-40zM2040 262h120v40h-120zM2280 262h40v40h-40zM1240 302h400v40h-400zM1880 302h40v40h-40zM1960 302h40v40h-40zM2080 302h40v40h-40zM2240 302h40v40h-40zM1240 342h400v40h-400zM1960 342h40v40h-40zM2240 342h40v40h-40zM1240 382h400v40h-400zM1800 382h40v40h-40zM1240 422h400v40h-400zM1240 462h360v40h-360z"/></g></mask><clipPath id="cpTR"><polygon points="1280,445 1397,428 1514,409 1630,392 1666,387 1760,366 1916,318 2071,268 2227,220 2364,169 2364,878 1280,878"/></clipPath><mask id="mgBR" maskUnits="userSpaceOnUse" x="0" y="0" width="2497" height="1617"><g filter="url(#mblur)"><path fill="rgb(15,15,15)" d="M1760 1200h40v40h-40zM2000 1200h40v40h-40zM2080 1200h200v40h-200zM1760 1240h80v40h-80zM2080 1240h200v40h-200zM1800 1280h40v40h-40zM1960 1280h40v40h-40zM2080 1280h40v40h-40zM2160 1280h120v40h-120zM2320 1280h80v40h-80zM1800 1320h40v40h-40zM1960 1320h40v40h-40zM2080 1320h40v40h-40zM2160 1320h120v40h-120zM2320 1320h80v40h-80zM1720 1360h40v40h-40zM1800 1360h40v40h-40zM1920 1360h80v40h-80zM2080 1360h40v40h-40zM2160 1360h120v40h-120zM2320 1360h80v40h-80zM1800 1400h40v40h-40zM1920 1400h80v40h-80zM2080 1400h40v40h-40zM2160 1400h120v40h-120zM2320 1400h80v40h-80zM1240 1440h80v40h-80zM1680 1440h40v40h-40zM1800 1440h40v40h-40zM1920 1440h80v40h-80zM2160 1440h120v40h-120zM2320 1440h80v40h-80zM1240 1480h80v40h-80zM1680 1480h40v40h-40zM1800 1480h80v40h-80zM1920 1480h120v40h-120zM2160 1480h240v40h-240zM1240 1520h80v40h-80zM1680 1520h40v40h-40zM1800 1520h120v40h-120zM1960 1520h440v40h-440zM1240 1560h120v40h-120zM1680 1560h40v40h-40zM1840 1560h560v40h-560zM1240 1600h120v40h-120zM1680 1600h40v40h-40zM1840 1600h560v40h-560z"/><path fill="rgb(38,38,38)" d="M2160 1080h40v40h-40zM2080 1120h120v40h-120zM1760 1160h40v40h-40zM2000 1160h40v40h-40zM2080 1160h120v40h-120zM1800 1200h40v40h-40zM1960 1200h40v40h-40zM2280 1200h120v40h-120zM1960 1240h80v40h-80zM2320 1240h80v40h-80zM1720 1280h40v40h-40zM1920 1280h40v40h-40zM2000 1280h40v40h-40zM2280 1280h40v40h-40zM1240 1320h80v40h-80zM1720 1320h40v40h-40zM1920 1320h40v40h-40zM2000 1320h40v40h-40zM2280 1320h40v40h-40zM1240 1360h80v40h-80zM1680 1360h40v40h-40zM1840 1360h80v40h-80zM2000 1360h80v40h-80zM2280 1360h40v40h-40zM1240 1400h80v40h-80zM1640 1400h80v40h-80zM1840 1400h80v40h-80zM2000 1400h80v40h-80zM2280 1400h40v40h-40zM1640 1440h40v40h-40zM1840 1440h80v40h-80zM2000 1440h80v40h-80zM2280 1440h40v40h-40zM1320 1480h40v40h-40zM1480 1480h40v40h-40zM1640 1480h40v40h-40zM1880 1480h40v40h-40zM2040 1480h40v40h-40zM1320 1520h120v40h-120zM1480 1520h120v40h-120zM1640 1520h40v40h-40zM1920 1520h40v40h-40zM1360 1560h320v40h-320zM1360 1600h320v40h-320z"/><path fill="rgb(71,71,71)" d="M2160 1040h80v40h-80zM2040 1080h120v40h-120zM2200 1080h40v40h-40zM2320 1080h80v40h-80zM2000 1120h40v40h-40zM2240 1120h160v40h-160zM1800 1160h40v40h-40zM1920 1160h80v40h-80zM2240 1160h160v40h-160zM1840 1200h40v40h-40zM1920 1200h40v40h-40zM1640 1240h40v40h-40zM1720 1240h40v40h-40zM1840 1240h120v40h-120zM2040 1240h40v40h-40zM2280 1240h40v40h-40zM1640 1280h80v40h-80zM1840 1280h80v40h-80zM2040 1280h40v40h-40zM1320 1320h80v40h-80zM1600 1320h120v40h-120zM1840 1320h80v40h-80zM2040 1320h40v40h-40zM1320 1360h120v40h-120zM1600 1360h80v40h-80zM1320 1400h40v40h-40zM1400 1400h40v40h-40zM1560 1400h80v40h-80zM1320 1440h200v40h-200zM1560 1440h40v40h-40zM1360 1480h120v40h-120zM1520 1480h120v40h-120zM1440 1520h40v40h-40zM1600 1520h40v40h-40z"/><path fill="rgb(115,115,115)" d="M2200 1000h40v40h-40zM2320 1040h80v40h-80zM2240 1080h40v40h-40zM1960 1120h40v40h-40zM2040 1120h40v40h-40zM2200 1160h40v40h-40zM1720 1200h40v40h-40zM2040 1200h40v40h-40zM1680 1240h40v40h-40zM1240 1280h80v40h-80zM1600 1280h40v40h-40zM1440 1360h40v40h-40zM1560 1360h40v40h-40zM1360 1400h40v40h-40zM1440 1400h80v40h-80zM1600 1440h40v40h-40z"/><path fill="rgb(158,158,158)" d="M2160 1000h40v40h-40zM2040 1040h80v40h-80zM2000 1080h40v40h-40zM1920 1120h40v40h-40zM2200 1120h40v40h-40zM1840 1160h40v40h-40zM2040 1160h40v40h-40zM1640 1200h40v40h-40zM1880 1200h40v40h-40zM1360 1280h40v40h-40zM1560 1280h40v40h-40zM1400 1320h40v40h-40zM1560 1320h40v40h-40zM1480 1360h40v40h-40zM1520 1440h40v40h-40z"/><path fill="rgb(178,178,178)" d="M2000 840h40v40h-40zM2080 840h40v40h-40zM2200 840h120v40h-120zM2000 880h40v40h-40zM2080 880h40v40h-40zM2200 880h120v40h-120zM2000 920h40v40h-40zM2080 920h40v40h-40zM2200 920h80v40h-80zM2000 960h40v40h-40zM2080 960h40v40h-40zM2200 960h40v40h-40zM2000 1000h40v40h-40zM2320 1000h80v40h-80zM2120 1040h40v40h-40zM1960 1080h40v40h-40zM2280 1080h40v40h-40zM1720 1120h80v40h-80zM1640 1160h40v40h-40zM1720 1160h40v40h-40zM1880 1160h40v40h-40zM1680 1200h40v40h-40zM1360 1240h80v40h-80zM1520 1240h40v40h-40zM1600 1240h40v40h-40zM1320 1280h40v40h-40zM1400 1280h40v40h-40zM1520 1280h40v40h-40zM1480 1320h80v40h-80z"/><path fill="rgb(184,184,184)" d="M1240 840h760v40h-760zM2040 840h40v40h-40zM2120 840h80v40h-80zM2320 840h80v40h-80zM1240 880h760v40h-760zM2040 880h40v40h-40zM2120 880h80v40h-80zM2320 880h80v40h-80zM1240 920h760v40h-760zM2040 920h40v40h-40zM2120 920h80v40h-80zM2280 920h120v40h-120zM1240 960h760v40h-760zM2040 960h40v40h-40zM2120 960h80v40h-80zM2240 960h160v40h-160zM1240 1000h760v40h-760zM2040 1000h120v40h-120zM2240 1000h80v40h-80zM1240 1040h800v40h-800zM2240 1040h80v40h-80zM1240 1080h720v40h-720zM1240 1120h480v40h-480zM1800 1120h120v40h-120zM1240 1160h400v40h-400zM1680 1160h40v40h-40zM1240 1200h400v40h-400zM1240 1240h120v40h-120zM1440 1240h80v40h-80zM1560 1240h40v40h-40zM1440 1280h80v40h-80zM1440 1320h40v40h-40zM1520 1360h40v40h-40zM1520 1400h40v40h-40z"/></g></mask><mask id="mcBR" maskUnits="userSpaceOnUse" x="0" y="0" width="2497" height="1617"><g filter="url(#mblur)"><path fill="rgb(26,26,26)" d="M2200 1000h40v40h-40zM2320 1040h80v40h-80zM2240 1080h40v40h-40zM1960 1120h40v40h-40zM2040 1120h40v40h-40zM2200 1160h40v40h-40zM1720 1200h40v40h-40zM2040 1200h40v40h-40zM1680 1240h40v40h-40zM1240 1280h80v40h-80zM1600 1280h40v40h-40zM1440 1360h40v40h-40zM1560 1360h40v40h-40zM1360 1400h40v40h-40zM1440 1400h80v40h-80zM1600 1440h40v40h-40z"/><path fill="rgb(76,76,76)" d="M2160 1000h40v40h-40zM2040 1040h80v40h-80zM2000 1080h40v40h-40zM1920 1120h40v40h-40zM2200 1120h40v40h-40zM1840 1160h40v40h-40zM2040 1160h40v40h-40zM1640 1200h40v40h-40zM1880 1200h40v40h-40zM1360 1280h40v40h-40zM1560 1280h40v40h-40zM1400 1320h40v40h-40zM1560 1320h40v40h-40zM1480 1360h40v40h-40zM1520 1440h40v40h-40z"/><path fill="rgb(128,128,128)" d="M2000 840h40v40h-40zM2080 840h40v40h-40zM2200 840h120v40h-120zM2000 880h40v40h-40zM2080 880h40v40h-40zM2200 880h120v40h-120zM2000 920h40v40h-40zM2080 920h40v40h-40zM2200 920h80v40h-80zM2000 960h40v40h-40zM2080 960h40v40h-40zM2200 960h40v40h-40zM2000 1000h40v40h-40zM2320 1000h80v40h-80zM2120 1040h40v40h-40zM1960 1080h40v40h-40zM2280 1080h40v40h-40zM1720 1120h80v40h-80zM1640 1160h40v40h-40zM1720 1160h40v40h-40zM1880 1160h40v40h-40zM1680 1200h40v40h-40zM1360 1240h80v40h-80zM1520 1240h40v40h-40zM1600 1240h40v40h-40zM1320 1280h40v40h-40zM1400 1280h40v40h-40zM1520 1280h40v40h-40zM1480 1320h80v40h-80z"/><path fill="rgb(178,178,178)" d="M1240 840h160v40h-160zM1600 840h160v40h-160zM1800 840h200v40h-200zM2040 840h40v40h-40zM2120 840h80v40h-80zM2320 840h80v40h-80zM1240 880h160v40h-160zM1600 880h160v40h-160zM1800 880h200v40h-200zM2040 880h40v40h-40zM2120 880h80v40h-80zM2320 880h80v40h-80zM1240 920h160v40h-160zM1600 920h160v40h-160zM1800 920h200v40h-200zM2040 920h40v40h-40zM2120 920h80v40h-80zM1240 960h160v40h-160zM1600 960h160v40h-160zM1800 960h200v40h-200zM2040 960h40v40h-40zM2120 960h80v40h-80zM2240 960h160v40h-160zM1240 1000h160v40h-160zM1600 1000h160v40h-160zM1800 1000h200v40h-200zM2040 1000h120v40h-120zM2240 1000h40v40h-40zM1240 1040h160v40h-160zM1600 1040h160v40h-160zM1800 1040h240v40h-240zM2240 1040h40v40h-40zM1240 1080h160v40h-160zM1600 1080h160v40h-160zM1800 1080h40v40h-40zM1920 1080h40v40h-40zM1240 1120h160v40h-160zM1800 1120h120v40h-120zM1240 1160h160v40h-160zM1600 1160h40v40h-40zM1680 1160h40v40h-40zM1320 1200h80v40h-80zM1520 1200h120v40h-120zM1240 1240h120v40h-120zM1480 1240h40v40h-40zM1560 1240h40v40h-40zM1440 1280h80v40h-80zM1440 1320h40v40h-40zM1520 1360h40v40h-40zM1520 1400h40v40h-40z"/><path fill="rgb(224,224,224)" d="M1400 840h200v40h-200zM1760 840h40v40h-40zM1400 880h200v40h-200zM1760 880h40v40h-40zM1400 920h200v40h-200zM1760 920h40v40h-40zM2280 920h120v40h-120zM1400 960h200v40h-200zM1760 960h40v40h-40zM1400 1000h200v40h-200zM1760 1000h40v40h-40zM2280 1000h40v40h-40zM1400 1040h200v40h-200zM1760 1040h40v40h-40zM2280 1040h40v40h-40zM1400 1080h200v40h-200zM1760 1080h40v40h-40zM1840 1080h80v40h-80zM1400 1120h320v40h-320zM1400 1160h200v40h-200zM1240 1200h80v40h-80zM1400 1200h120v40h-120zM1440 1240h40v40h-40z"/></g></mask><clipPath id="cpBR"><polygon points="1280,1168 1397,1152 1514,1131 1630,1112 1760,1091 1916,1044 2071,998 2227,943 2366,892 2366,1590 1280,1590"/></clipPath></defs><g clip-path="url(#cpTL)"><rect x="118" y="184" width="923" height="706" fill="url(#pgA)" mask="url(#mgTL)"/><rect x="118" y="184" width="923" height="706" fill="url(#pcA)" mask="url(#mcTL)"/></g><g clip-path="url(#cpBL)"><rect x="118" y="912" width="923" height="678" fill="url(#pgB)" mask="url(#mgBL)"/><rect x="118" y="912" width="923" height="678" fill="url(#pcB)" mask="url(#mcBL)"/></g><g clip-path="url(#cpTR)"><rect x="1280" y="142" width="1084" height="736" fill="url(#pgB)" mask="url(#mgTR)"/><rect x="1280" y="142" width="1084" height="736" fill="url(#pcB)" mask="url(#mcTR)"/></g><g clip-path="url(#cpBR)"><rect x="1280" y="880" width="1086" height="710" fill="url(#pgA)" mask="url(#mgBR)"/><rect x="1280" y="880" width="1086" height="710" fill="url(#pcA)" mask="url(#mcBR)"/></g>
<rect x="18.8" y="21.6" width="1128" height="1568.9" fill="none" stroke="#222" stroke-width="3.2"/>
<rect x="1159.9" y="21.6" width="1318.8" height="1568.9" fill="none" stroke="#222" stroke-width="3.2"/>
<text transform="translate(56.4 88.8) scale(0.990 1)" font-size="64.4">a)</text>
<text transform="translate(160.1 83.2) scale(0.969 1)" font-size="48.9">Profile 1</text>
<text transform="translate(417.5 110.8) scale(0.928 1)" font-size="37">DISTANCE [METER]</text>
<text transform="translate(1204.2 87.5) scale(0.950 1)" font-size="64">b)</text>
<text transform="translate(1334.4 79.0) scale(0.990 1)" font-size="48.2">Profile 2b</text>
<text transform="translate(1656.7 83.6) scale(0.933 1)" font-size="37">DISTANCE [METER]</text>
<text x="138.4" y="846.8" font-size="42.1">250 MHz (July 2016)</text>
<text transform="translate(139.7 1555.8) scale(1.058 1)" font-size="39.7">250 MHz (March 2017)</text>
<text transform="translate(1913.6 833.0) scale(1.039 1)" font-size="41.5">250 MHz (March 2017)</text>
<text transform="translate(1884.4 1546.5) scale(1.070 1)" font-size="40.5">250 MHz (January 2018)</text>
<line x1="119.0" y1="176.3" x2="1041.0" y2="176.3" stroke="#333" stroke-width="2.2"/>
<line x1="121.0" y1="176.3" x2="121.0" y2="171.0" stroke="#333" stroke-width="2"/>
<line x1="167.1" y1="176.3" x2="167.1" y2="172.5" stroke="#333" stroke-width="2"/>
<line x1="213.3" y1="176.3" x2="213.3" y2="172.5" stroke="#333" stroke-width="2"/>
<line x1="259.4" y1="176.3" x2="259.4" y2="172.5" stroke="#333" stroke-width="2"/>
<line x1="305.6" y1="176.3" x2="305.6" y2="172.5" stroke="#333" stroke-width="2"/>
<line x1="351.7" y1="176.3" x2="351.7" y2="171.0" stroke="#333" stroke-width="2"/>
<line x1="397.8" y1="176.3" x2="397.8" y2="172.5" stroke="#333" stroke-width="2"/>
<line x1="444.0" y1="176.3" x2="444.0" y2="172.5" stroke="#333" stroke-width="2"/>
<line x1="490.1" y1="176.3" x2="490.1" y2="172.5" stroke="#333" stroke-width="2"/>
<line x1="536.3" y1="176.3" x2="536.3" y2="172.5" stroke="#333" stroke-width="2"/>
<line x1="582.4" y1="176.3" x2="582.4" y2="171.0" stroke="#333" stroke-width="2"/>
<line x1="628.5" y1="176.3" x2="628.5" y2="172.5" stroke="#333" stroke-width="2"/>
<line x1="674.7" y1="176.3" x2="674.7" y2="172.5" stroke="#333" stroke-width="2"/>
<line x1="720.8" y1="176.3" x2="720.8" y2="172.5" stroke="#333" stroke-width="2"/>
<line x1="767.0" y1="176.3" x2="767.0" y2="172.5" stroke="#333" stroke-width="2"/>
<line x1="813.1" y1="176.3" x2="813.1" y2="171.0" stroke="#333" stroke-width="2"/>
<line x1="859.2" y1="176.3" x2="859.2" y2="172.5" stroke="#333" stroke-width="2"/>
<line x1="905.4" y1="176.3" x2="905.4" y2="172.5" stroke="#333" stroke-width="2"/>
<line x1="951.5" y1="176.3" x2="951.5" y2="172.5" stroke="#333" stroke-width="2"/>
<line x1="997.7" y1="176.3" x2="997.7" y2="172.5" stroke="#333" stroke-width="2"/>
<line x1="1041.0" y1="176.3" x2="1041.0" y2="171.0" stroke="#333" stroke-width="2"/>
<text x="113.5" y="165.0" font-size="30" letter-spacing="2.5">0</text>
<text x="334.9" y="165.0" font-size="30" letter-spacing="2.5">10</text>
<text x="566.1" y="165.0" font-size="30" letter-spacing="2.5">20</text>
<text x="796.9" y="165.0" font-size="30" letter-spacing="2.5">30</text>
<text x="1028.0" y="165.0" font-size="30" letter-spacing="2.5">40</text>
<line x1="116.5" y1="905.5" x2="1041.0" y2="905.5" stroke="#333" stroke-width="2.2"/>
<line x1="121.0" y1="905.5" x2="121.0" y2="900.0" stroke="#333" stroke-width="2"/>
<line x1="167.1" y1="905.5" x2="167.1" y2="901.5" stroke="#333" stroke-width="2"/>
<line x1="213.3" y1="905.5" x2="213.3" y2="901.5" stroke="#333" stroke-width="2"/>
<line x1="259.4" y1="905.5" x2="259.4" y2="901.5" stroke="#333" stroke-width="2"/>
<line x1="305.6" y1="905.5" x2="305.6" y2="901.5" stroke="#333" stroke-width="2"/>
<line x1="351.7" y1="905.5" x2="351.7" y2="900.0" stroke="#333" stroke-width="2"/>
<line x1="397.8" y1="905.5" x2="397.8" y2="901.5" stroke="#333" stroke-width="2"/>
<line x1="444.0" y1="905.5" x2="444.0" y2="901.5" stroke="#333" stroke-width="2"/>
<line x1="490.1" y1="905.5" x2="490.1" y2="901.5" stroke="#333" stroke-width="2"/>
<line x1="536.3" y1="905.5" x2="536.3" y2="901.5" stroke="#333" stroke-width="2"/>
<line x1="582.4" y1="905.5" x2="582.4" y2="900.0" stroke="#333" stroke-width="2"/>
<line x1="628.5" y1="905.5" x2="628.5" y2="901.5" stroke="#333" stroke-width="2"/>
<line x1="674.7" y1="905.5" x2="674.7" y2="901.5" stroke="#333" stroke-width="2"/>
<line x1="720.8" y1="905.5" x2="720.8" y2="901.5" stroke="#333" stroke-width="2"/>
<line x1="767.0" y1="905.5" x2="767.0" y2="901.5" stroke="#333" stroke-width="2"/>
<line x1="813.1" y1="905.5" x2="813.1" y2="900.0" stroke="#333" stroke-width="2"/>
<line x1="859.2" y1="905.5" x2="859.2" y2="901.5" stroke="#333" stroke-width="2"/>
<line x1="905.4" y1="905.5" x2="905.4" y2="901.5" stroke="#333" stroke-width="2"/>
<line x1="951.5" y1="905.5" x2="951.5" y2="901.5" stroke="#333" stroke-width="2"/>
<line x1="997.7" y1="905.5" x2="997.7" y2="901.5" stroke="#333" stroke-width="2"/>
<line x1="1041.0" y1="905.5" x2="1041.0" y2="900.0" stroke="#333" stroke-width="2"/>
<line x1="112.0" y1="184.0" x2="112.0" y2="889.5" stroke="#333" stroke-width="2.4"/>
<line x1="112.0" y1="184.0" x2="108.0" y2="184.0" stroke="#333" stroke-width="2"/>
<text x="85.0" y="194.2" font-size="30" letter-spacing="2.5">0</text>
<line x1="112.0" y1="285.4" x2="108.0" y2="285.4" stroke="#333" stroke-width="2"/>
<text x="67.5" y="295.6" font-size="30" letter-spacing="2.5">20</text>
<line x1="112.0" y1="386.8" x2="108.0" y2="386.8" stroke="#333" stroke-width="2"/>
<text x="67.5" y="397.0" font-size="30" letter-spacing="2.5">40</text>
<line x1="112.0" y1="488.2" x2="108.0" y2="488.2" stroke="#333" stroke-width="2"/>
<text x="67.5" y="498.4" font-size="30" letter-spacing="2.5">60</text>
<line x1="112.0" y1="589.6" x2="108.0" y2="589.6" stroke="#333" stroke-width="2"/>
<text x="67.5" y="599.8" font-size="30" letter-spacing="2.5">80</text>
<line x1="112.0" y1="691.0" x2="108.0" y2="691.0" stroke="#333" stroke-width="2"/>
<text x="50.0" y="701.2" font-size="30" letter-spacing="2.5">100</text>
<line x1="112.0" y1="792.4" x2="108.0" y2="792.4" stroke="#333" stroke-width="2"/>
<text x="50.0" y="802.6" font-size="30" letter-spacing="2.5">120</text>
<line x1="112.0" y1="184.0" x2="108.0" y2="184.0" stroke="#333" stroke-width="2"/>
<line x1="112.0" y1="911.0" x2="112.0" y2="1594.0" stroke="#333" stroke-width="2.4"/>
<line x1="112.0" y1="914.0" x2="108.0" y2="914.0" stroke="#333" stroke-width="2"/>
<text x="85.0" y="924.2" font-size="30" letter-spacing="2.5">0</text>
<line x1="112.0" y1="1015.2" x2="108.0" y2="1015.2" stroke="#333" stroke-width="2"/>
<text x="67.5" y="1025.4" font-size="30" letter-spacing="2.5">20</text>
<line x1="112.0" y1="1116.4" x2="108.0" y2="1116.4" stroke="#333" stroke-width="2"/>
<text x="67.5" y="1126.6" font-size="30" letter-spacing="2.5">40</text>
<line x1="112.0" y1="1217.6" x2="108.0" y2="1217.6" stroke="#333" stroke-width="2"/>
<text x="67.5" y="1227.8" font-size="30" letter-spacing="2.5">60</text>
<line x1="112.0" y1="1318.8" x2="108.0" y2="1318.8" stroke="#333" stroke-width="2"/>
<text x="67.5" y="1329.0" font-size="30" letter-spacing="2.5">80</text>
<line x1="112.0" y1="1420.0" x2="108.0" y2="1420.0" stroke="#333" stroke-width="2"/>
<text x="50.0" y="1430.2" font-size="30" letter-spacing="2.5">100</text>
<line x1="112.0" y1="1521.2" x2="108.0" y2="1521.2" stroke="#333" stroke-width="2"/>
<text x="50.0" y="1531.4" font-size="30" letter-spacing="2.5">120</text>
<line x1="112.0" y1="911.0" x2="108.0" y2="911.0" stroke="#333" stroke-width="2"/>
<line x1="1050.0" y1="184.0" x2="1050.0" y2="889.5" stroke="#333" stroke-width="2.4"/>
<line x1="1050.0" y1="186.5" x2="1054.0" y2="186.5" stroke="#333" stroke-width="2"/>
<line x1="1050.0" y1="204.9" x2="1052.5" y2="204.9" stroke="#333" stroke-width="1.5"/>
<line x1="1050.0" y1="223.4" x2="1052.5" y2="223.4" stroke="#333" stroke-width="1.5"/>
<line x1="1050.0" y1="241.8" x2="1052.5" y2="241.8" stroke="#333" stroke-width="1.5"/>
<line x1="1050.0" y1="260.3" x2="1052.5" y2="260.3" stroke="#333" stroke-width="1.5"/>
<line x1="1050.0" y1="278.7" x2="1054.0" y2="278.7" stroke="#333" stroke-width="2"/>
<line x1="1050.0" y1="297.1" x2="1052.5" y2="297.1" stroke="#333" stroke-width="1.5"/>
<line x1="1050.0" y1="315.6" x2="1052.5" y2="315.6" stroke="#333" stroke-width="1.5"/>
<line x1="1050.0" y1="334.0" x2="1052.5" y2="334.0" stroke="#333" stroke-width="1.5"/>
<line x1="1050.0" y1="352.5" x2="1052.5" y2="352.5" stroke="#333" stroke-width="1.5"/>
<line x1="1050.0" y1="370.9" x2="1054.0" y2="370.9" stroke="#333" stroke-width="2"/>
<line x1="1050.0" y1="389.3" x2="1052.5" y2="389.3" stroke="#333" stroke-width="1.5"/>
<line x1="1050.0" y1="407.8" x2="1052.5" y2="407.8" stroke="#333" stroke-width="1.5"/>
<line x1="1050.0" y1="426.2" x2="1052.5" y2="426.2" stroke="#333" stroke-width="1.5"/>
<line x1="1050.0" y1="444.7" x2="1052.5" y2="444.7" stroke="#333" stroke-width="1.5"/>
<line x1="1050.0" y1="463.1" x2="1054.0" y2="463.1" stroke="#333" stroke-width="2"/>
<line x1="1050.0" y1="481.5" x2="1052.5" y2="481.5" stroke="#333" stroke-width="1.5"/>
<line x1="1050.0" y1="500.0" x2="1052.5" y2="500.0" stroke="#333" stroke-width="1.5"/>
<line x1="1050.0" y1="518.4" x2="1052.5" y2="518.4" stroke="#333" stroke-width="1.5"/>
<line x1="1050.0" y1="536.9" x2="1052.5" y2="536.9" stroke="#333" stroke-width="1.5"/>
<line x1="1050.0" y1="555.3" x2="1054.0" y2="555.3" stroke="#333" stroke-width="2"/>
<line x1="1050.0" y1="573.7" x2="1052.5" y2="573.7" stroke="#333" stroke-width="1.5"/>
<line x1="1050.0" y1="592.2" x2="1052.5" y2="592.2" stroke="#333" stroke-width="1.5"/>
<line x1="1050.0" y1="610.6" x2="1052.5" y2="610.6" stroke="#333" stroke-width="1.5"/>
<line x1="1050.0" y1="629.1" x2="1052.5" y2="629.1" stroke="#333" stroke-width="1.5"/>
<line x1="1050.0" y1="647.5" x2="1054.0" y2="647.5" stroke="#333" stroke-width="2"/>
<line x1="1050.0" y1="665.9" x2="1052.5" y2="665.9" stroke="#333" stroke-width="1.5"/>
<line x1="1050.0" y1="684.4" x2="1052.5" y2="684.4" stroke="#333" stroke-width="1.5"/>
<line x1="1050.0" y1="702.8" x2="1052.5" y2="702.8" stroke="#333" stroke-width="1.5"/>
<line x1="1050.0" y1="721.3" x2="1052.5" y2="721.3" stroke="#333" stroke-width="1.5"/>
<line x1="1050.0" y1="739.7" x2="1054.0" y2="739.7" stroke="#333" stroke-width="2"/>
<line x1="1050.0" y1="758.1" x2="1052.5" y2="758.1" stroke="#333" stroke-width="1.5"/>
<line x1="1050.0" y1="776.6" x2="1052.5" y2="776.6" stroke="#333" stroke-width="1.5"/>
<line x1="1050.0" y1="795.0" x2="1052.5" y2="795.0" stroke="#333" stroke-width="1.5"/>
<line x1="1050.0" y1="813.5" x2="1052.5" y2="813.5" stroke="#333" stroke-width="1.5"/>
<line x1="1050.0" y1="831.9" x2="1054.0" y2="831.9" stroke="#333" stroke-width="2"/>
<line x1="1050.0" y1="850.3" x2="1052.5" y2="850.3" stroke="#333" stroke-width="1.5"/>
<line x1="1050.0" y1="868.8" x2="1052.5" y2="868.8" stroke="#333" stroke-width="1.5"/>
<line x1="1050.0" y1="887.2" x2="1052.5" y2="887.2" stroke="#333" stroke-width="1.5"/>
<text x="1064.8" y="196.7" font-size="30">0</text>
<text x="1063.6" y="288.9" font-size="30">1</text>
<text x="1064.8" y="381.1" font-size="30">2</text>
<text x="1064.8" y="473.3" font-size="30">3</text>
<text x="1065.7" y="565.5" font-size="30">4</text>
<text x="1064.8" y="657.7" font-size="30">5</text>
<text x="1065.1" y="749.9" font-size="30">6</text>
<text x="1064.2" y="842.1" font-size="30">7</text>
<line x1="1050.0" y1="911.0" x2="1050.0" y2="1594.0" stroke="#333" stroke-width="2.4"/>
<line x1="1050.0" y1="916.0" x2="1054.0" y2="916.0" stroke="#333" stroke-width="2"/>
<line x1="1050.0" y1="934.3" x2="1052.5" y2="934.3" stroke="#333" stroke-width="1.5"/>
<line x1="1050.0" y1="952.6" x2="1052.5" y2="952.6" stroke="#333" stroke-width="1.5"/>
<line x1="1050.0" y1="971.0" x2="1052.5" y2="971.0" stroke="#333" stroke-width="1.5"/>
<line x1="1050.0" y1="989.3" x2="1052.5" y2="989.3" stroke="#333" stroke-width="1.5"/>
<line x1="1050.0" y1="1007.6" x2="1054.0" y2="1007.6" stroke="#333" stroke-width="2"/>
<line x1="1050.0" y1="1025.9" x2="1052.5" y2="1025.9" stroke="#333" stroke-width="1.5"/>
<line x1="1050.0" y1="1044.2" x2="1052.5" y2="1044.2" stroke="#333" stroke-width="1.5"/>
<line x1="1050.0" y1="1062.6" x2="1052.5" y2="1062.6" stroke="#333" stroke-width="1.5"/>
<line x1="1050.0" y1="1080.9" x2="1052.5" y2="1080.9" stroke="#333" stroke-width="1.5"/>
<line x1="1050.0" y1="1099.2" x2="1054.0" y2="1099.2" stroke="#333" stroke-width="2"/>
<line x1="1050.0" y1="1117.5" x2="1052.5" y2="1117.5" stroke="#333" stroke-width="1.5"/>
<line x1="1050.0" y1="1135.8" x2="1052.5" y2="1135.8" stroke="#333" stroke-width="1.5"/>
<line x1="1050.0" y1="1154.2" x2="1052.5" y2="1154.2" stroke="#333" stroke-width="1.5"/>
<line x1="1050.0" y1="1172.5" x2="1052.5" y2="1172.5" stroke="#333" stroke-width="1.5"/>
<line x1="1050.0" y1="1190.8" x2="1054.0" y2="1190.8" stroke="#333" stroke-width="2"/>
<line x1="1050.0" y1="1209.1" x2="1052.5" y2="1209.1" stroke="#333" stroke-width="1.5"/>
<line x1="1050.0" y1="1227.4" x2="1052.5" y2="1227.4" stroke="#333" stroke-width="1.5"/>
<line x1="1050.0" y1="1245.8" x2="1052.5" y2="1245.8" stroke="#333" stroke-width="1.5"/>
<line x1="1050.0" y1="1264.1" x2="1052.5" y2="1264.1" stroke="#333" stroke-width="1.5"/>
<line x1="1050.0" y1="1282.4" x2="1054.0" y2="1282.4" stroke="#333" stroke-width="2"/>
<line x1="1050.0" y1="1300.7" x2="1052.5" y2="1300.7" stroke="#333" stroke-width="1.5"/>
<line x1="1050.0" y1="1319.0" x2="1052.5" y2="1319.0" stroke="#333" stroke-width="1.5"/>
<line x1="1050.0" y1="1337.4" x2="1052.5" y2="1337.4" stroke="#333" stroke-width="1.5"/>
<line x1="1050.0" y1="1355.7" x2="1052.5" y2="1355.7" stroke="#333" stroke-width="1.5"/>
<line x1="1050.0" y1="1374.0" x2="1054.0" y2="1374.0" stroke="#333" stroke-width="2"/>
<line x1="1050.0" y1="1392.3" x2="1052.5" y2="1392.3" stroke="#333" stroke-width="1.5"/>
<line x1="1050.0" y1="1410.6" x2="1052.5" y2="1410.6" stroke="#333" stroke-width="1.5"/>
<line x1="1050.0" y1="1429.0" x2="1052.5" y2="1429.0" stroke="#333" stroke-width="1.5"/>
<line x1="1050.0" y1="1447.3" x2="1052.5" y2="1447.3" stroke="#333" stroke-width="1.5"/>
<line x1="1050.0" y1="1465.6" x2="1054.0" y2="1465.6" stroke="#333" stroke-width="2"/>
<line x1="1050.0" y1="1483.9" x2="1052.5" y2="1483.9" stroke="#333" stroke-width="1.5"/>
<line x1="1050.0" y1="1502.2" x2="1052.5" y2="1502.2" stroke="#333" stroke-width="1.5"/>
<line x1="1050.0" y1="1520.6" x2="1052.5" y2="1520.6" stroke="#333" stroke-width="1.5"/>
<line x1="1050.0" y1="1538.9" x2="1052.5" y2="1538.9" stroke="#333" stroke-width="1.5"/>
<line x1="1050.0" y1="1557.2" x2="1054.0" y2="1557.2" stroke="#333" stroke-width="2"/>
<line x1="1050.0" y1="1575.5" x2="1052.5" y2="1575.5" stroke="#333" stroke-width="1.5"/>
<line x1="1050.0" y1="1593.8" x2="1052.5" y2="1593.8" stroke="#333" stroke-width="1.5"/>
<text x="1064.8" y="926.2" font-size="30">0</text>
<text x="1063.6" y="1017.8" font-size="30">1</text>
<text x="1064.8" y="1109.4" font-size="30">2</text>
<text x="1064.8" y="1201.0" font-size="30">3</text>
<text x="1065.7" y="1292.6" font-size="30">4</text>
<text x="1064.8" y="1384.2" font-size="30">5</text>
<text x="1065.1" y="1475.8" font-size="30">6</text>
<text x="1064.2" y="1567.4" font-size="30">7</text>
<text transform="translate(42.3 522.8) rotate(-90) translate(-72.6 10.6) scale(0.855 1)" font-size="38">TIME [ns]</text>
<text transform="translate(42.5 1237.0) rotate(-90) translate(-72.6 10.6) scale(0.855 1)" font-size="38">TIME [ns]</text>
<text transform="translate(1114.5 533.2) rotate(90) translate(-83.6 10.6) scale(0.856 1)" font-size="38">DEPTH [m]</text>
<text transform="translate(1109.7 1242.5) rotate(90) translate(-83.3 10.6) scale(0.853 1)" font-size="38">DEPTH [m]</text>
<line x1="1278.6" y1="141.5" x2="2364.0" y2="141.5" stroke="#333" stroke-width="2.2"/>
<line x1="1278.6" y1="141.5" x2="1278.6" y2="136.0" stroke="#333" stroke-width="2"/>
<line x1="1335.5" y1="141.5" x2="1335.5" y2="137.5" stroke="#333" stroke-width="2"/>
<line x1="1392.5" y1="141.5" x2="1392.5" y2="137.5" stroke="#333" stroke-width="2"/>
<line x1="1449.4" y1="141.5" x2="1449.4" y2="137.5" stroke="#333" stroke-width="2"/>
<line x1="1506.4" y1="141.5" x2="1506.4" y2="137.5" stroke="#333" stroke-width="2"/>
<line x1="1563.3" y1="141.5" x2="1563.3" y2="136.0" stroke="#333" stroke-width="2"/>
<line x1="1620.2" y1="141.5" x2="1620.2" y2="137.5" stroke="#333" stroke-width="2"/>
<line x1="1677.2" y1="141.5" x2="1677.2" y2="137.5" stroke="#333" stroke-width="2"/>
<line x1="1734.1" y1="141.5" x2="1734.1" y2="137.5" stroke="#333" stroke-width="2"/>
<line x1="1791.1" y1="141.5" x2="1791.1" y2="137.5" stroke="#333" stroke-width="2"/>
<line x1="1848.0" y1="141.5" x2="1848.0" y2="136.0" stroke="#333" stroke-width="2"/>
<line x1="1904.9" y1="141.5" x2="1904.9" y2="137.5" stroke="#333" stroke-width="2"/>
<line x1="1961.9" y1="141.5" x2="1961.9" y2="137.5" stroke="#333" stroke-width="2"/>
<line x1="2018.8" y1="141.5" x2="2018.8" y2="137.5" stroke="#333" stroke-width="2"/>
<line x1="2075.8" y1="141.5" x2="2075.8" y2="137.5" stroke="#333" stroke-width="2"/>
<line x1="2132.7" y1="141.5" x2="2132.7" y2="136.0" stroke="#333" stroke-width="2"/>
<line x1="2189.6" y1="141.5" x2="2189.6" y2="137.5" stroke="#333" stroke-width="2"/>
<line x1="2246.6" y1="141.5" x2="2246.6" y2="137.5" stroke="#333" stroke-width="2"/>
<line x1="2303.5" y1="141.5" x2="2303.5" y2="137.5" stroke="#333" stroke-width="2"/>
<line x1="2360.5" y1="141.5" x2="2360.5" y2="137.5" stroke="#333" stroke-width="2"/>
<text x="1271.1" y="128.5" font-size="30" letter-spacing="2.5">0</text>
<text x="1546.4" y="128.5" font-size="30" letter-spacing="2.5">10</text>
<text x="1831.8" y="128.5" font-size="30" letter-spacing="2.5">20</text>
<text x="2116.4" y="128.5" font-size="30" letter-spacing="2.5">30</text>
<line x1="1278.6" y1="879.4" x2="2364.0" y2="879.4" stroke="#333" stroke-width="2.2"/>
<line x1="1278.6" y1="879.4" x2="1278.6" y2="874.0" stroke="#333" stroke-width="2"/>
<line x1="1335.5" y1="879.4" x2="1335.5" y2="875.5" stroke="#333" stroke-width="2"/>
<line x1="1392.5" y1="879.4" x2="1392.5" y2="875.5" stroke="#333" stroke-width="2"/>
<line x1="1449.4" y1="879.4" x2="1449.4" y2="875.5" stroke="#333" stroke-width="2"/>
<line x1="1506.4" y1="879.4" x2="1506.4" y2="875.5" stroke="#333" stroke-width="2"/>
<line x1="1563.3" y1="879.4" x2="1563.3" y2="874.0" stroke="#333" stroke-width="2"/>
<line x1="1620.2" y1="879.4" x2="1620.2" y2="875.5" stroke="#333" stroke-width="2"/>
<line x1="1677.2" y1="879.4" x2="1677.2" y2="875.5" stroke="#333" stroke-width="2"/>
<line x1="1734.1" y1="879.4" x2="1734.1" y2="875.5" stroke="#333" stroke-width="2"/>
<line x1="1791.1" y1="879.4" x2="1791.1" y2="875.5" stroke="#333" stroke-width="2"/>
<line x1="1848.0" y1="879.4" x2="1848.0" y2="874.0" stroke="#333" stroke-width="2"/>
<line x1="1904.9" y1="879.4" x2="1904.9" y2="875.5" stroke="#333" stroke-width="2"/>
<line x1="1961.9" y1="879.4" x2="1961.9" y2="875.5" stroke="#333" stroke-width="2"/>
<line x1="2018.8" y1="879.4" x2="2018.8" y2="875.5" stroke="#333" stroke-width="2"/>
<line x1="2075.8" y1="879.4" x2="2075.8" y2="875.5" stroke="#333" stroke-width="2"/>
<line x1="2132.7" y1="879.4" x2="2132.7" y2="874.0" stroke="#333" stroke-width="2"/>
<line x1="2189.6" y1="879.4" x2="2189.6" y2="875.5" stroke="#333" stroke-width="2"/>
<line x1="2246.6" y1="879.4" x2="2246.6" y2="875.5" stroke="#333" stroke-width="2"/>
<line x1="2303.5" y1="879.4" x2="2303.5" y2="875.5" stroke="#333" stroke-width="2"/>
<line x1="2360.5" y1="879.4" x2="2360.5" y2="875.5" stroke="#333" stroke-width="2"/>
<line x1="1270.8" y1="149.5" x2="1270.8" y2="855.3" stroke="#333" stroke-width="2.4"/>
<line x1="1270.8" y1="149.5" x2="1266.5" y2="149.5" stroke="#333" stroke-width="2"/>
<line x1="1270.8" y1="149.5" x2="1266.5" y2="149.5" stroke="#333" stroke-width="2"/>
<text x="1248.2" y="159.7" font-size="30" letter-spacing="2.5">0</text>
<line x1="1270.8" y1="243.7" x2="1266.5" y2="243.7" stroke="#333" stroke-width="2"/>
<text x="1230.7" y="250.9" font-size="30" letter-spacing="2.5">20</text>
<line x1="1270.8" y1="337.8" x2="1266.5" y2="337.8" stroke="#333" stroke-width="2"/>
<text x="1230.7" y="345.0" font-size="30" letter-spacing="2.5">40</text>
<line x1="1270.8" y1="432.0" x2="1266.5" y2="432.0" stroke="#333" stroke-width="2"/>
<text x="1230.7" y="439.2" font-size="30" letter-spacing="2.5">60</text>
<line x1="1270.8" y1="526.1" x2="1266.5" y2="526.1" stroke="#333" stroke-width="2"/>
<text x="1230.7" y="533.3" font-size="30" letter-spacing="2.5">80</text>
<line x1="1270.8" y1="620.3" x2="1266.5" y2="620.3" stroke="#333" stroke-width="2"/>
<text x="1213.2" y="627.5" font-size="30" letter-spacing="2.5">100</text>
<line x1="1270.8" y1="714.5" x2="1266.5" y2="714.5" stroke="#333" stroke-width="2"/>
<text x="1213.2" y="721.7" font-size="30" letter-spacing="2.5">120</text>
<line x1="1270.8" y1="808.6" x2="1266.5" y2="808.6" stroke="#333" stroke-width="2"/>
<text x="1213.2" y="815.8" font-size="30" letter-spacing="2.5">140</text>
<line x1="1270.8" y1="887.0" x2="1270.8" y2="1591.0" stroke="#333" stroke-width="2.4"/>
<line x1="1270.8" y1="887.0" x2="1266.5" y2="887.0" stroke="#333" stroke-width="2"/>
<line x1="1270.8" y1="892.4" x2="1266.5" y2="892.4" stroke="#333" stroke-width="2"/>
<text x="1248.2" y="902.6" font-size="30" letter-spacing="2.5">0</text>
<line x1="1270.8" y1="986.2" x2="1266.5" y2="986.2" stroke="#333" stroke-width="2"/>
<text x="1230.7" y="993.4" font-size="30" letter-spacing="2.5">20</text>
<line x1="1270.8" y1="1080.0" x2="1266.5" y2="1080.0" stroke="#333" stroke-width="2"/>
<text x="1230.7" y="1087.2" font-size="30" letter-spacing="2.5">40</text>
<line x1="1270.8" y1="1173.8" x2="1266.5" y2="1173.8" stroke="#333" stroke-width="2"/>
<text x="1230.7" y="1181.0" font-size="30" letter-spacing="2.5">60</text>
<line x1="1270.8" y1="1267.6" x2="1266.5" y2="1267.6" stroke="#333" stroke-width="2"/>
<text x="1230.7" y="1274.8" font-size="30" letter-spacing="2.5">80</text>
<line x1="1270.8" y1="1361.4" x2="1266.5" y2="1361.4" stroke="#333" stroke-width="2"/>
<text x="1213.2" y="1368.6" font-size="30" letter-spacing="2.5">100</text>
<line x1="1270.8" y1="1455.2" x2="1266.5" y2="1455.2" stroke="#333" stroke-width="2"/>
<text x="1213.2" y="1462.4" font-size="30" letter-spacing="2.5">120</text>
<line x1="1270.8" y1="1549.0" x2="1266.5" y2="1549.0" stroke="#333" stroke-width="2"/>
<text x="1213.2" y="1556.2" font-size="30" letter-spacing="2.5">140</text>
<line x1="2377.0" y1="149.5" x2="2377.0" y2="855.3" stroke="#333" stroke-width="2.4"/>
<line x1="2377.0" y1="150.0" x2="2381.0" y2="150.0" stroke="#333" stroke-width="2"/>
<line x1="2377.0" y1="167.1" x2="2379.5" y2="167.1" stroke="#333" stroke-width="1.5"/>
<line x1="2377.0" y1="184.2" x2="2379.5" y2="184.2" stroke="#333" stroke-width="1.5"/>
<line x1="2377.0" y1="201.2" x2="2379.5" y2="201.2" stroke="#333" stroke-width="1.5"/>
<line x1="2377.0" y1="218.3" x2="2379.5" y2="218.3" stroke="#333" stroke-width="1.5"/>
<line x1="2377.0" y1="235.4" x2="2381.0" y2="235.4" stroke="#333" stroke-width="2"/>
<line x1="2377.0" y1="252.5" x2="2379.5" y2="252.5" stroke="#333" stroke-width="1.5"/>
<line x1="2377.0" y1="269.6" x2="2379.5" y2="269.6" stroke="#333" stroke-width="1.5"/>
<line x1="2377.0" y1="286.6" x2="2379.5" y2="286.6" stroke="#333" stroke-width="1.5"/>
<line x1="2377.0" y1="303.7" x2="2379.5" y2="303.7" stroke="#333" stroke-width="1.5"/>
<line x1="2377.0" y1="320.8" x2="2381.0" y2="320.8" stroke="#333" stroke-width="2"/>
<line x1="2377.0" y1="337.9" x2="2379.5" y2="337.9" stroke="#333" stroke-width="1.5"/>
<line x1="2377.0" y1="355.0" x2="2379.5" y2="355.0" stroke="#333" stroke-width="1.5"/>
<line x1="2377.0" y1="372.0" x2="2379.5" y2="372.0" stroke="#333" stroke-width="1.5"/>
<line x1="2377.0" y1="389.1" x2="2379.5" y2="389.1" stroke="#333" stroke-width="1.5"/>
<line x1="2377.0" y1="406.2" x2="2381.0" y2="406.2" stroke="#333" stroke-width="2"/>
<line x1="2377.0" y1="423.3" x2="2379.5" y2="423.3" stroke="#333" stroke-width="1.5"/>
<line x1="2377.0" y1="440.4" x2="2379.5" y2="440.4" stroke="#333" stroke-width="1.5"/>
<line x1="2377.0" y1="457.4" x2="2379.5" y2="457.4" stroke="#333" stroke-width="1.5"/>
<line x1="2377.0" y1="474.5" x2="2379.5" y2="474.5" stroke="#333" stroke-width="1.5"/>
<line x1="2377.0" y1="491.6" x2="2381.0" y2="491.6" stroke="#333" stroke-width="2"/>
<line x1="2377.0" y1="508.7" x2="2379.5" y2="508.7" stroke="#333" stroke-width="1.5"/>
<line x1="2377.0" y1="525.8" x2="2379.5" y2="525.8" stroke="#333" stroke-width="1.5"/>
<line x1="2377.0" y1="542.8" x2="2379.5" y2="542.8" stroke="#333" stroke-width="1.5"/>
<line x1="2377.0" y1="559.9" x2="2379.5" y2="559.9" stroke="#333" stroke-width="1.5"/>
<line x1="2377.0" y1="577.0" x2="2381.0" y2="577.0" stroke="#333" stroke-width="2"/>
<line x1="2377.0" y1="594.1" x2="2379.5" y2="594.1" stroke="#333" stroke-width="1.5"/>
<line x1="2377.0" y1="611.2" x2="2379.5" y2="611.2" stroke="#333" stroke-width="1.5"/>
<line x1="2377.0" y1="628.2" x2="2379.5" y2="628.2" stroke="#333" stroke-width="1.5"/>
<line x1="2377.0" y1="645.3" x2="2379.5" y2="645.3" stroke="#333" stroke-width="1.5"/>
<line x1="2377.0" y1="662.4" x2="2381.0" y2="662.4" stroke="#333" stroke-width="2"/>
<line x1="2377.0" y1="679.5" x2="2379.5" y2="679.5" stroke="#333" stroke-width="1.5"/>
<line x1="2377.0" y1="696.6" x2="2379.5" y2="696.6" stroke="#333" stroke-width="1.5"/>
<line x1="2377.0" y1="713.6" x2="2379.5" y2="713.6" stroke="#333" stroke-width="1.5"/>
<line x1="2377.0" y1="730.7" x2="2379.5" y2="730.7" stroke="#333" stroke-width="1.5"/>
<line x1="2377.0" y1="747.8" x2="2381.0" y2="747.8" stroke="#333" stroke-width="2"/>
<line x1="2377.0" y1="764.9" x2="2379.5" y2="764.9" stroke="#333" stroke-width="1.5"/>
<line x1="2377.0" y1="782.0" x2="2379.5" y2="782.0" stroke="#333" stroke-width="1.5"/>
<line x1="2377.0" y1="799.0" x2="2379.5" y2="799.0" stroke="#333" stroke-width="1.5"/>
<line x1="2377.0" y1="816.1" x2="2379.5" y2="816.1" stroke="#333" stroke-width="1.5"/>
<line x1="2377.0" y1="833.2" x2="2381.0" y2="833.2" stroke="#333" stroke-width="2"/>
<line x1="2377.0" y1="850.3" x2="2379.5" y2="850.3" stroke="#333" stroke-width="1.5"/>
<text x="2385.8" y="160.2" font-size="30">0</text>
<text x="2384.6" y="245.6" font-size="30">1</text>
<text x="2385.8" y="331.0" font-size="30">2</text>
<text x="2385.8" y="416.4" font-size="30">3</text>
<text x="2386.7" y="501.8" font-size="30">4</text>
<text x="2385.8" y="587.2" font-size="30">5</text>
<text x="2386.1" y="672.6" font-size="30">6</text>
<text x="2385.2" y="758.0" font-size="30">7</text>
<text x="2386.1" y="843.4" font-size="30">8</text>
<line x1="2377.0" y1="887.0" x2="2377.0" y2="1591.0" stroke="#333" stroke-width="2.4"/>
<line x1="2377.0" y1="889.6" x2="2381.0" y2="889.6" stroke="#333" stroke-width="2"/>
<line x1="2377.0" y1="906.6" x2="2379.5" y2="906.6" stroke="#333" stroke-width="1.5"/>
<line x1="2377.0" y1="923.6" x2="2379.5" y2="923.6" stroke="#333" stroke-width="1.5"/>
<line x1="2377.0" y1="940.7" x2="2379.5" y2="940.7" stroke="#333" stroke-width="1.5"/>
<line x1="2377.0" y1="957.7" x2="2379.5" y2="957.7" stroke="#333" stroke-width="1.5"/>
<line x1="2377.0" y1="974.7" x2="2381.0" y2="974.7" stroke="#333" stroke-width="2"/>
<line x1="2377.0" y1="991.7" x2="2379.5" y2="991.7" stroke="#333" stroke-width="1.5"/>
<line x1="2377.0" y1="1008.7" x2="2379.5" y2="1008.7" stroke="#333" stroke-width="1.5"/>
<line x1="2377.0" y1="1025.8" x2="2379.5" y2="1025.8" stroke="#333" stroke-width="1.5"/>
<line x1="2377.0" y1="1042.8" x2="2379.5" y2="1042.8" stroke="#333" stroke-width="1.5"/>
<line x1="2377.0" y1="1059.8" x2="2381.0" y2="1059.8" stroke="#333" stroke-width="2"/>
<line x1="2377.0" y1="1076.8" x2="2379.5" y2="1076.8" stroke="#333" stroke-width="1.5"/>
<line x1="2377.0" y1="1093.8" x2="2379.5" y2="1093.8" stroke="#333" stroke-width="1.5"/>
<line x1="2377.0" y1="1110.9" x2="2379.5" y2="1110.9" stroke="#333" stroke-width="1.5"/>
<line x1="2377.0" y1="1127.9" x2="2379.5" y2="1127.9" stroke="#333" stroke-width="1.5"/>
<line x1="2377.0" y1="1144.9" x2="2381.0" y2="1144.9" stroke="#333" stroke-width="2"/>
<line x1="2377.0" y1="1161.9" x2="2379.5" y2="1161.9" stroke="#333" stroke-width="1.5"/>
<line x1="2377.0" y1="1178.9" x2="2379.5" y2="1178.9" stroke="#333" stroke-width="1.5"/>
<line x1="2377.0" y1="1196.0" x2="2379.5" y2="1196.0" stroke="#333" stroke-width="1.5"/>
<line x1="2377.0" y1="1213.0" x2="2379.5" y2="1213.0" stroke="#333" stroke-width="1.5"/>
<line x1="2377.0" y1="1230.0" x2="2381.0" y2="1230.0" stroke="#333" stroke-width="2"/>
<line x1="2377.0" y1="1247.0" x2="2379.5" y2="1247.0" stroke="#333" stroke-width="1.5"/>
<line x1="2377.0" y1="1264.0" x2="2379.5" y2="1264.0" stroke="#333" stroke-width="1.5"/>
<line x1="2377.0" y1="1281.1" x2="2379.5" y2="1281.1" stroke="#333" stroke-width="1.5"/>
<line x1="2377.0" y1="1298.1" x2="2379.5" y2="1298.1" stroke="#333" stroke-width="1.5"/>
<line x1="2377.0" y1="1315.1" x2="2381.0" y2="1315.1" stroke="#333" stroke-width="2"/>
<line x1="2377.0" y1="1332.1" x2="2379.5" y2="1332.1" stroke="#333" stroke-width="1.5"/>
<line x1="2377.0" y1="1349.1" x2="2379.5" y2="1349.1" stroke="#333" stroke-width="1.5"/>
<line x1="2377.0" y1="1366.2" x2="2379.5" y2="1366.2" stroke="#333" stroke-width="1.5"/>
<line x1="2377.0" y1="1383.2" x2="2379.5" y2="1383.2" stroke="#333" stroke-width="1.5"/>
<line x1="2377.0" y1="1400.2" x2="2381.0" y2="1400.2" stroke="#333" stroke-width="2"/>
<line x1="2377.0" y1="1417.2" x2="2379.5" y2="1417.2" stroke="#333" stroke-width="1.5"/>
<line x1="2377.0" y1="1434.2" x2="2379.5" y2="1434.2" stroke="#333" stroke-width="1.5"/>
<line x1="2377.0" y1="1451.3" x2="2379.5" y2="1451.3" stroke="#333" stroke-width="1.5"/>
<line x1="2377.0" y1="1468.3" x2="2379.5" y2="1468.3" stroke="#333" stroke-width="1.5"/>
<line x1="2377.0" y1="1485.3" x2="2381.0" y2="1485.3" stroke="#333" stroke-width="2"/>
<line x1="2377.0" y1="1502.3" x2="2379.5" y2="1502.3" stroke="#333" stroke-width="1.5"/>
<line x1="2377.0" y1="1519.3" x2="2379.5" y2="1519.3" stroke="#333" stroke-width="1.5"/>
<line x1="2377.0" y1="1536.4" x2="2379.5" y2="1536.4" stroke="#333" stroke-width="1.5"/>
<line x1="2377.0" y1="1553.4" x2="2379.5" y2="1553.4" stroke="#333" stroke-width="1.5"/>
<line x1="2377.0" y1="1570.4" x2="2381.0" y2="1570.4" stroke="#333" stroke-width="2"/>
<line x1="2377.0" y1="1587.4" x2="2379.5" y2="1587.4" stroke="#333" stroke-width="1.5"/>
<text x="2385.8" y="899.8" font-size="30">0</text>
<text x="2384.6" y="984.9" font-size="30">1</text>
<text x="2385.8" y="1070.0" font-size="30">2</text>
<text x="2385.8" y="1155.1" font-size="30">3</text>
<text x="2386.7" y="1240.2" font-size="30">4</text>
<text x="2385.8" y="1325.3" font-size="30">5</text>
<text x="2386.1" y="1410.4" font-size="30">6</text>
<text x="2385.2" y="1495.5" font-size="30">7</text>
<text transform="translate(1190.0 524.5) rotate(-90) translate(-78.2 10.6) scale(0.921 1)" font-size="38">TIME [ns]</text>
<text transform="translate(1193.0 1240.0) rotate(-90) translate(-78.2 10.6) scale(0.921 1)" font-size="38">TIME [ns]</text>
<text transform="translate(2441.0 509.0) rotate(90) translate(-89.8 10.6) scale(0.920 1)" font-size="38">DEPTH [m]</text>
<text transform="translate(2444.0 1243.0) rotate(90) translate(-89.7 10.6) scale(0.918 1)" font-size="38">DEPTH [m]</text>
<rect x="472.5" y="133.2" width="141.20000000000005" height="125.69999999999999" fill="none" stroke="#e5252a" stroke-width="3.6" stroke-dasharray="16 9.5"/>
<rect x="472.7" y="869.2" width="141.2" height="125.69999999999993" fill="none" stroke="#e5252a" stroke-width="3.6" stroke-dasharray="16 9.5"/>
<rect x="1667.6" y="323.2" width="140.60000000000014" height="126.30000000000001" fill="none" stroke="#e5252a" stroke-width="3.6" stroke-dasharray="16 9.5"/>
<rect x="1703.7" y="1027.6" width="140.70000000000005" height="125.70000000000005" fill="none" stroke="#e5252a" stroke-width="3.6" stroke-dasharray="16 9.5"/>
</svg></body></html>
